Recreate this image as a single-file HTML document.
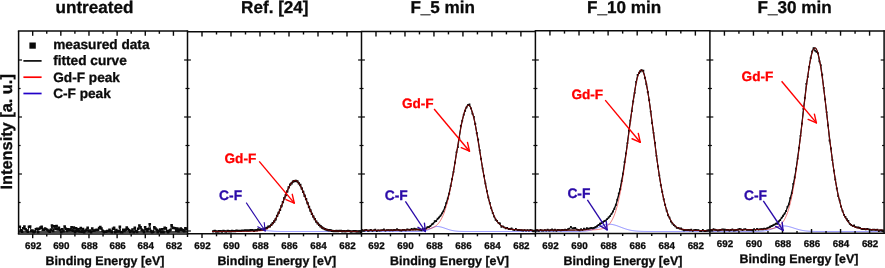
<!DOCTYPE html>
<html><head><meta charset="utf-8"><title>XPS F1s spectra</title>
<style>html,body{margin:0;padding:0;background:#fff;}svg{display:block;will-change:transform;}text{font-family:"Liberation Sans", Arial, Helvetica, sans-serif;font-weight:bold;stroke-width:0.3px;paint-order:stroke;text-rendering:geometricPrecision;}</style>
</head><body>
<svg width="885" height="268" viewBox="0 0 885 268">
<defs><clipPath id="c0"><rect x="18.60" y="31.00" width="168.90" height="203.00"/></clipPath><clipPath id="c1"><rect x="187.50" y="31.70" width="174.00" height="202.10"/></clipPath><clipPath id="c2"><rect x="361.50" y="31.60" width="173.90" height="202.20"/></clipPath><clipPath id="c3"><rect x="535.40" y="30.80" width="174.50" height="202.70"/></clipPath><clipPath id="c4"><rect x="709.90" y="30.90" width="174.20" height="202.40"/></clipPath></defs>
<rect width="885" height="268" fill="#fff"/>
<g clip-path="url(#c1)">
<polyline points="212.60,231.41 213.10,231.41 213.60,231.40 214.10,231.40 214.60,231.39 215.10,231.39 215.60,231.38 216.10,231.38 216.60,231.37 217.10,231.36 217.60,231.36 218.10,231.35 218.60,231.34 219.10,231.34 219.60,231.33 220.10,231.32 220.60,231.31 221.10,231.30 221.60,231.30 222.10,231.29 222.60,231.28 223.10,231.27 223.60,231.26 224.10,231.25 224.60,231.24 225.10,231.23 225.60,231.22 226.10,231.21 226.60,231.20 227.10,231.19 227.60,231.18 228.10,231.16 228.60,231.15 229.10,231.14 229.60,231.13 230.10,231.12 230.60,231.10 231.10,231.09 231.60,231.08 232.10,231.06 232.60,231.05 233.10,231.04 233.60,231.02 234.10,231.01 234.60,230.99 235.10,230.98 235.60,230.96 236.10,230.95 236.60,230.94 237.10,230.92 237.60,230.91 238.10,230.89 238.60,230.88 239.10,230.86 239.60,230.84 240.10,230.83 240.60,230.81 241.10,230.80 241.60,230.78 242.10,230.77 242.60,230.75 243.10,230.74 243.60,230.72 244.10,230.71 244.60,230.70 245.10,230.68 245.60,230.67 246.10,230.65 246.60,230.64 247.10,230.63 247.60,230.61 248.10,230.60 248.60,230.59 249.10,230.57 249.60,230.56 250.10,230.55 250.60,230.54 251.10,230.53 251.60,230.52 252.10,230.51 252.60,230.50 253.10,230.49 253.60,230.48 254.10,230.47 254.60,230.46 255.10,230.45 255.60,230.45 256.10,230.44 256.60,230.43 257.10,230.43 257.60,230.42 258.10,230.42 258.60,230.41 259.10,230.41 259.60,230.41 260.10,230.40 260.60,230.40 261.10,230.40 261.60,230.40 262.10,230.40 262.60,230.40 263.10,230.41 263.60,230.43 264.10,230.45 264.60,230.47 265.10,230.50 265.60,230.54 266.10,230.57 266.60,230.61 267.10,230.66 267.60,230.70 268.10,230.75 268.60,230.79 269.10,230.84 269.60,230.89 270.10,230.94 270.60,230.98 271.10,231.03 271.60,231.07 272.10,231.11 272.60,231.15 273.10,231.19 273.60,231.22 274.10,231.25 274.60,231.28 275.10,231.31 275.60,231.33 276.10,231.36 276.60,231.38 277.10,231.39 277.60,231.41 278.10,231.42 278.60,231.43 279.10,231.44 279.60,231.45 280.10,231.46 280.60,231.47 281.10,231.47 281.60,231.48 282.10,231.48 282.60,231.49 283.10,231.49 283.60,231.49 284.10,231.49 284.60,231.49 285.10,231.50 285.60,231.50 286.10,231.50 286.60,231.50 287.10,231.50 287.60,231.50 288.10,231.50 288.60,231.50 289.10,231.50 289.60,231.50 290.10,231.50 290.60,231.50 291.10,231.50 291.60,231.50 292.10,231.50 292.60,231.50 293.10,231.50 293.60,231.50 294.10,231.50 294.60,231.50 295.10,231.50 295.60,231.50 296.10,231.50 296.60,231.50 297.10,231.50 297.60,231.50 298.10,231.50 298.60,231.50 299.10,231.50 299.60,231.50 300.10,231.50 300.60,231.50 301.10,231.50 301.60,231.50 302.10,231.50 302.60,231.50 303.10,231.50 303.60,231.50 304.10,231.50 304.60,231.50 305.10,231.50 305.60,231.50 306.10,231.50 306.60,231.50 307.10,231.50 307.60,231.50 308.10,231.50 308.60,231.50 309.10,231.50 309.60,231.50 310.10,231.50 310.60,231.50 311.10,231.50 311.60,231.50 312.10,231.50 312.60,231.50 313.10,231.50 313.60,231.50 314.10,231.50 314.60,231.50 315.10,231.50 315.60,231.50 316.10,231.50 316.60,231.50 317.10,231.50 317.60,231.50 318.10,231.50 318.60,231.50 319.10,231.50 319.60,231.50 320.10,231.50 320.60,231.50 321.10,231.50 321.60,231.50 322.10,231.50 322.60,231.50 323.10,231.50 323.60,231.50 324.10,231.50 324.60,231.50 325.10,231.50 325.60,231.50 326.10,231.50 326.60,231.50 327.10,231.50 327.60,231.50 328.10,231.50 328.60,231.50 329.10,231.50 329.60,231.50 330.10,231.50 330.60,231.50 331.10,231.50 331.60,231.50 332.10,231.50 332.60,231.50 333.10,231.50 333.60,231.50 334.10,231.50 334.60,231.50 335.10,231.50 335.60,231.50 336.10,231.50 336.60,231.50 337.10,231.50 337.60,231.50 338.10,231.50 338.60,231.50 339.10,231.50 339.60,231.50 340.10,231.50 340.60,231.50 341.10,231.50 341.60,231.50 342.10,231.50 342.60,231.50 343.10,231.50 343.60,231.50 344.10,231.50 344.60,231.50 345.10,231.50 345.60,231.50 346.10,231.50 346.60,231.50 347.10,231.50 347.60,231.50 348.10,231.50 348.60,231.50 349.10,231.50 349.60,231.50 350.10,231.50 350.60,231.50 351.10,231.50 351.60,231.50 352.10,231.50 352.60,231.50 353.10,231.50 353.60,231.50 354.10,231.50 354.60,231.50 355.10,231.50 355.60,231.50 356.10,231.50 356.60,231.50 357.10,231.50 357.60,231.50 358.10,231.50 358.60,231.50 359.10,231.50 359.60,231.50 360.10,231.50 360.60,231.50 361.10,231.50" fill="none" stroke="#5050ff" stroke-width="0.65" stroke-linejoin="round" stroke-linecap="round" />
<polyline points="213.30,231.47 214.75,230.94 216.20,231.52 217.65,231.59 219.10,231.24 220.55,231.19 222.00,231.64 223.45,230.88 224.90,231.29 226.35,231.65 227.80,230.95 229.25,231.23 230.70,231.43 232.15,230.99 233.60,231.09 235.05,231.11 236.50,230.70 237.95,230.82 239.40,230.85 240.85,230.91 242.30,230.69 243.75,230.61 245.20,230.40 246.65,230.48 248.10,230.69 249.55,230.48 251.00,230.24 252.45,230.18 253.90,230.82 255.35,230.44 256.80,230.24 258.25,229.46 259.70,229.94 261.15,229.69 262.60,229.64 264.05,229.02 265.50,228.46 266.95,227.99 268.40,226.70 269.85,226.31 271.30,224.87 272.75,223.04 274.20,221.51 275.65,219.28 277.10,215.84 278.55,212.94 280.00,209.78 281.45,206.13 282.90,202.18 284.35,198.16 285.80,195.21 287.25,191.32 288.70,187.43 290.15,184.59 291.60,183.29 293.05,181.59 294.50,181.12 295.95,180.90 297.40,181.31 298.85,183.34 300.30,185.02 301.75,188.38 303.20,191.94 304.65,195.74 306.10,199.19 307.55,203.15 309.00,206.99 310.45,210.48 311.90,213.79 313.35,216.64 314.80,219.13 316.25,221.66 317.70,223.44 319.15,224.89 320.60,226.27 322.05,227.50 323.50,228.34 324.95,229.08 326.40,229.58 327.85,230.03 329.30,230.27 330.75,230.28 332.20,230.80 333.65,231.06 335.10,231.04 336.55,230.99 338.00,231.18 339.45,230.95 340.90,230.80 342.35,231.23 343.80,231.06 345.25,231.42 346.70,231.08 348.15,230.79 349.60,231.13 351.05,231.67 352.50,231.30 353.95,231.11 355.40,231.25 356.85,231.52 358.30,231.53 359.75,231.48 361.20,231.75" fill="none" stroke="#0a0a0a" stroke-width="0.8" stroke-linejoin="round" stroke-linecap="round" />
<path d="M212.15 230.32h2.3v2.3h-2.3zM213.60 229.79h2.3v2.3h-2.3zM215.05 230.37h2.3v2.3h-2.3zM216.50 230.44h2.3v2.3h-2.3zM217.95 230.09h2.3v2.3h-2.3zM219.40 230.04h2.3v2.3h-2.3zM220.85 230.49h2.3v2.3h-2.3zM222.30 229.73h2.3v2.3h-2.3zM223.75 230.14h2.3v2.3h-2.3zM225.20 230.50h2.3v2.3h-2.3zM226.65 229.80h2.3v2.3h-2.3zM228.10 230.08h2.3v2.3h-2.3zM229.55 230.28h2.3v2.3h-2.3zM231.00 229.84h2.3v2.3h-2.3zM232.45 229.94h2.3v2.3h-2.3zM233.90 229.96h2.3v2.3h-2.3zM235.35 229.55h2.3v2.3h-2.3zM236.80 229.67h2.3v2.3h-2.3zM238.25 229.70h2.3v2.3h-2.3zM239.70 229.76h2.3v2.3h-2.3zM241.15 229.54h2.3v2.3h-2.3zM242.60 229.46h2.3v2.3h-2.3zM244.05 229.25h2.3v2.3h-2.3zM245.50 229.33h2.3v2.3h-2.3zM246.95 229.54h2.3v2.3h-2.3zM248.40 229.33h2.3v2.3h-2.3zM249.85 229.09h2.3v2.3h-2.3zM251.30 229.03h2.3v2.3h-2.3zM252.75 229.67h2.3v2.3h-2.3zM254.20 229.29h2.3v2.3h-2.3zM255.65 229.09h2.3v2.3h-2.3zM257.10 228.31h2.3v2.3h-2.3zM258.55 228.79h2.3v2.3h-2.3zM260.00 228.54h2.3v2.3h-2.3zM261.45 228.49h2.3v2.3h-2.3zM262.90 227.87h2.3v2.3h-2.3zM264.35 227.31h2.3v2.3h-2.3zM265.80 226.84h2.3v2.3h-2.3zM267.25 225.55h2.3v2.3h-2.3zM268.70 225.16h2.3v2.3h-2.3zM270.15 223.72h2.3v2.3h-2.3zM271.60 221.89h2.3v2.3h-2.3zM273.05 220.36h2.3v2.3h-2.3zM274.50 218.13h2.3v2.3h-2.3zM275.95 214.69h2.3v2.3h-2.3zM277.40 211.79h2.3v2.3h-2.3zM278.85 208.63h2.3v2.3h-2.3zM280.30 204.98h2.3v2.3h-2.3zM281.75 201.03h2.3v2.3h-2.3zM283.20 197.01h2.3v2.3h-2.3zM284.65 194.06h2.3v2.3h-2.3zM286.10 190.17h2.3v2.3h-2.3zM287.55 186.28h2.3v2.3h-2.3zM289.00 183.44h2.3v2.3h-2.3zM290.45 182.14h2.3v2.3h-2.3zM291.90 180.44h2.3v2.3h-2.3zM293.35 179.97h2.3v2.3h-2.3zM294.80 179.75h2.3v2.3h-2.3zM296.25 180.16h2.3v2.3h-2.3zM297.70 182.19h2.3v2.3h-2.3zM299.15 183.87h2.3v2.3h-2.3zM300.60 187.23h2.3v2.3h-2.3zM302.05 190.79h2.3v2.3h-2.3zM303.50 194.59h2.3v2.3h-2.3zM304.95 198.04h2.3v2.3h-2.3zM306.40 202.00h2.3v2.3h-2.3zM307.85 205.84h2.3v2.3h-2.3zM309.30 209.33h2.3v2.3h-2.3zM310.75 212.64h2.3v2.3h-2.3zM312.20 215.49h2.3v2.3h-2.3zM313.65 217.98h2.3v2.3h-2.3zM315.10 220.51h2.3v2.3h-2.3zM316.55 222.29h2.3v2.3h-2.3zM318.00 223.74h2.3v2.3h-2.3zM319.45 225.12h2.3v2.3h-2.3zM320.90 226.35h2.3v2.3h-2.3zM322.35 227.19h2.3v2.3h-2.3zM323.80 227.93h2.3v2.3h-2.3zM325.25 228.43h2.3v2.3h-2.3zM326.70 228.88h2.3v2.3h-2.3zM328.15 229.12h2.3v2.3h-2.3zM329.60 229.13h2.3v2.3h-2.3zM331.05 229.65h2.3v2.3h-2.3zM332.50 229.91h2.3v2.3h-2.3zM333.95 229.89h2.3v2.3h-2.3zM335.40 229.84h2.3v2.3h-2.3zM336.85 230.03h2.3v2.3h-2.3zM338.30 229.80h2.3v2.3h-2.3zM339.75 229.65h2.3v2.3h-2.3zM341.20 230.08h2.3v2.3h-2.3zM342.65 229.91h2.3v2.3h-2.3zM344.10 230.27h2.3v2.3h-2.3zM345.55 229.93h2.3v2.3h-2.3zM347.00 229.64h2.3v2.3h-2.3zM348.45 229.98h2.3v2.3h-2.3zM349.90 230.52h2.3v2.3h-2.3zM351.35 230.15h2.3v2.3h-2.3zM352.80 229.96h2.3v2.3h-2.3zM354.25 230.10h2.3v2.3h-2.3zM355.70 230.37h2.3v2.3h-2.3zM357.15 230.38h2.3v2.3h-2.3zM358.60 230.33h2.3v2.3h-2.3zM360.05 230.60h2.3v2.3h-2.3z" fill="#0a0a0a"/>
<polyline points="212.60,231.38 213.10,231.38 213.60,231.37 214.10,231.37 214.60,231.36 215.10,231.36 215.60,231.35 216.10,231.35 216.60,231.34 217.10,231.33 217.60,231.33 218.10,231.32 218.60,231.31 219.10,231.30 219.60,231.30 220.10,231.29 220.60,231.28 221.10,231.27 221.60,231.26 222.10,231.25 222.60,231.24 223.10,231.23 223.60,231.22 224.10,231.21 224.60,231.20 225.10,231.19 225.60,231.18 226.10,231.17 226.60,231.16 227.10,231.15 227.60,231.14 228.10,231.12 228.60,231.11 229.10,231.10 229.60,231.09 230.10,231.07 230.60,231.06 231.10,231.05 231.60,231.03 232.10,231.02 232.60,231.00 233.10,230.99 233.60,230.97 234.10,230.96 234.60,230.94 235.10,230.93 235.60,230.91 236.10,230.90 236.60,230.88 237.10,230.87 237.60,230.85 238.10,230.83 238.60,230.82 239.10,230.80 239.60,230.79 240.10,230.77 240.60,230.75 241.10,230.74 241.60,230.72 242.10,230.70 242.60,230.69 243.10,230.67 243.60,230.66 244.10,230.64 244.60,230.62 245.10,230.61 245.60,230.59 246.10,230.57 246.60,230.56 247.10,230.54 247.60,230.52 248.10,230.51 248.60,230.49 249.10,230.47 249.60,230.46 250.10,230.44 250.60,230.42 251.10,230.40 251.60,230.38 252.10,230.36 252.60,230.34 253.10,230.32 253.60,230.30 254.10,230.28 254.60,230.25 255.10,230.22 255.60,230.19 256.10,230.16 256.60,230.13 257.10,230.09 257.60,230.05 258.10,230.00 258.60,229.95 259.10,229.89 259.60,229.83 260.10,229.76 260.60,229.69 261.10,229.60 261.60,229.51 262.10,229.41 262.60,229.30 263.10,229.18 263.60,229.05 264.10,228.92 264.60,228.77 265.10,228.61 265.60,228.44 266.10,228.25 266.60,228.04 267.10,227.81 267.60,227.56 268.10,227.28 268.60,226.98 269.10,226.65 269.60,226.29 270.10,225.89 270.60,225.46 271.10,225.00 271.60,224.50 272.10,223.95 272.60,223.37 273.10,222.75 273.60,222.08 274.10,221.37 274.60,220.61 275.10,219.81 275.60,218.96 276.10,218.07 276.60,217.14 277.10,216.16 277.60,215.14 278.10,214.08 278.60,212.98 279.10,211.85 279.60,210.67 280.10,209.47 280.60,208.24 281.10,206.98 281.60,205.69 282.10,204.39 282.60,203.08 283.10,201.75 283.60,200.42 284.10,199.09 284.60,197.76 285.10,196.44 285.60,195.14 286.10,193.86 286.60,192.61 287.10,191.39 287.60,190.21 288.10,189.07 288.60,187.98 289.10,186.95 289.60,185.97 290.10,185.07 290.60,184.23 291.10,183.47 291.60,182.79 292.10,182.19 292.60,181.68 293.10,181.25 293.60,180.92 294.10,180.69 294.60,180.54 295.10,180.50 295.60,180.55 296.10,180.71 296.60,180.96 297.10,181.31 297.60,181.76 298.10,182.30 298.60,182.92 299.10,183.63 299.60,184.42 300.10,185.28 300.60,186.22 301.10,187.21 301.60,188.27 302.10,189.37 302.60,190.52 303.10,191.71 303.60,192.94 304.10,194.19 304.60,195.47 305.10,196.77 305.60,198.07 306.10,199.38 306.60,200.70 307.10,202.01 307.60,203.31 308.10,204.60 308.60,205.87 309.10,207.12 309.60,208.36 310.10,209.56 310.60,210.74 311.10,211.88 311.60,212.99 312.10,214.07 312.60,215.10 313.10,216.10 313.60,217.06 314.10,217.99 314.60,218.87 315.10,219.71 315.60,220.51 316.10,221.27 316.60,221.99 317.10,222.67 317.60,223.31 318.10,223.91 318.60,224.48 319.10,225.01 319.60,225.51 320.10,225.97 320.60,226.41 321.10,226.81 321.60,227.18 322.10,227.53 322.60,227.85 323.10,228.15 323.60,228.42 324.10,228.67 324.60,228.90 325.10,229.11 325.60,229.30 326.10,229.48 326.60,229.64 327.10,229.79 327.60,229.93 328.10,230.05 328.60,230.16 329.10,230.26 329.60,230.36 330.10,230.44 330.60,230.52 331.10,230.58 331.60,230.65 332.10,230.70 332.60,230.76 333.10,230.80 333.60,230.85 334.10,230.88 334.60,230.92 335.10,230.95 335.60,230.98 336.10,231.01 336.60,231.03 337.10,231.06 337.60,231.08 338.10,231.10 338.60,231.12 339.10,231.13 339.60,231.15 340.10,231.16 340.60,231.18 341.10,231.19 341.60,231.20 342.10,231.21 342.60,231.23 343.10,231.24 343.60,231.25 344.10,231.26 344.60,231.26 345.10,231.27 345.60,231.28 346.10,231.29 346.60,231.30 347.10,231.31 347.60,231.31 348.10,231.32 348.60,231.33 349.10,231.33 349.60,231.34 350.10,231.35 350.60,231.35 351.10,231.36 351.60,231.36 352.10,231.37 352.60,231.37 353.10,231.38 353.60,231.39 354.10,231.39 354.60,231.40 355.10,231.40 355.60,231.40 356.10,231.41 356.60,231.41 357.10,231.42 357.60,231.42 358.10,231.43 358.60,231.43 359.10,231.44 359.60,231.44 360.10,231.44 360.60,231.45 361.10,231.45" fill="none" stroke="#0a0a0a" stroke-width="1.3" stroke-linejoin="round" stroke-linecap="round" />
<polyline points="212.60,231.47 213.10,231.47 213.60,231.47 214.10,231.47 214.60,231.47 215.10,231.47 215.60,231.47 216.10,231.47 216.60,231.47 217.10,231.47 217.60,231.47 218.10,231.47 218.60,231.47 219.10,231.47 219.60,231.47 220.10,231.47 220.60,231.47 221.10,231.47 221.60,231.47 222.10,231.47 222.60,231.47 223.10,231.46 223.60,231.46 224.10,231.46 224.60,231.46 225.10,231.46 225.60,231.46 226.10,231.46 226.60,231.46 227.10,231.46 227.60,231.46 228.10,231.46 228.60,231.46 229.10,231.46 229.60,231.46 230.10,231.46 230.60,231.46 231.10,231.46 231.60,231.46 232.10,231.45 232.60,231.45 233.10,231.45 233.60,231.45 234.10,231.45 234.60,231.45 235.10,231.45 235.60,231.45 236.10,231.45 236.60,231.45 237.10,231.45 237.60,231.45 238.10,231.44 238.60,231.44 239.10,231.44 239.60,231.44 240.10,231.44 240.60,231.44 241.10,231.44 241.60,231.44 242.10,231.44 242.60,231.43 243.10,231.43 243.60,231.43 244.10,231.43 244.60,231.43 245.10,231.43 245.60,231.42 246.10,231.42 246.60,231.42 247.10,231.42 247.60,231.41 248.10,231.41 248.60,231.40 249.10,231.40 249.60,231.39 250.10,231.39 250.60,231.38 251.10,231.38 251.60,231.37 252.10,231.36 252.60,231.35 253.10,231.34 253.60,231.32 254.10,231.31 254.60,231.29 255.10,231.27 255.60,231.25 256.10,231.22 256.60,231.19 257.10,231.16 257.60,231.12 258.10,231.08 258.60,231.04 259.10,230.98 259.60,230.92 260.10,230.86 260.60,230.78 261.10,230.70 261.60,230.61 262.10,230.51 262.60,230.39 263.10,230.27 263.60,230.12 264.10,229.97 264.60,229.80 265.10,229.61 265.60,229.40 266.10,229.17 266.60,228.93 267.10,228.65 267.60,228.36 268.10,228.04 268.60,227.69 269.10,227.31 269.60,226.90 270.10,226.46 270.60,225.98 271.10,225.47 271.60,224.93 272.10,224.34 272.60,223.72 273.10,223.06 273.60,222.36 274.10,221.61 274.60,220.83 275.10,220.00 275.60,219.13 276.10,218.22 276.60,217.27 277.10,216.27 277.60,215.24 278.10,214.16 278.60,213.05 279.10,211.90 279.60,210.72 280.10,209.51 280.60,208.27 281.10,207.00 281.60,205.72 282.10,204.41 282.60,203.09 283.10,201.76 283.60,200.43 284.10,199.10 284.60,197.77 285.10,196.45 285.60,195.15 286.10,193.87 286.60,192.61 287.10,191.39 287.60,190.21 288.10,189.07 288.60,187.98 289.10,186.95 289.60,185.98 290.10,185.07 290.60,184.23 291.10,183.47 291.60,182.79 292.10,182.19 292.60,181.68 293.10,181.25 293.60,180.92 294.10,180.69 294.60,180.54 295.10,180.50 295.60,180.55 296.10,180.71 296.60,180.96 297.10,181.31 297.60,181.76 298.10,182.30 298.60,182.92 299.10,183.63 299.60,184.42 300.10,185.28 300.60,186.22 301.10,187.21 301.60,188.27 302.10,189.37 302.60,190.52 303.10,191.71 303.60,192.94 304.10,194.19 304.60,195.47 305.10,196.77 305.60,198.07 306.10,199.38 306.60,200.70 307.10,202.01 307.60,203.31 308.10,204.60 308.60,205.87 309.10,207.12 309.60,208.36 310.10,209.56 310.60,210.74 311.10,211.88 311.60,212.99 312.10,214.07 312.60,215.10 313.10,216.10 313.60,217.06 314.10,217.99 314.60,218.87 315.10,219.71 315.60,220.51 316.10,221.27 316.60,221.99 317.10,222.67 317.60,223.31 318.10,223.91 318.60,224.48 319.10,225.01 319.60,225.51 320.10,225.97 320.60,226.41 321.10,226.81 321.60,227.18 322.10,227.53 322.60,227.85 323.10,228.15 323.60,228.42 324.10,228.67 324.60,228.90 325.10,229.11 325.60,229.30 326.10,229.48 326.60,229.64 327.10,229.79 327.60,229.93 328.10,230.05 328.60,230.16 329.10,230.26 329.60,230.36 330.10,230.44 330.60,230.52 331.10,230.58 331.60,230.65 332.10,230.70 332.60,230.76 333.10,230.80 333.60,230.85 334.10,230.88 334.60,230.92 335.10,230.95 335.60,230.98 336.10,231.01 336.60,231.03 337.10,231.06 337.60,231.08 338.10,231.10 338.60,231.12 339.10,231.13 339.60,231.15 340.10,231.16 340.60,231.18 341.10,231.19 341.60,231.20 342.10,231.21 342.60,231.23 343.10,231.24 343.60,231.25 344.10,231.26 344.60,231.26 345.10,231.27 345.60,231.28 346.10,231.29 346.60,231.30 347.10,231.31 347.60,231.31 348.10,231.32 348.60,231.33 349.10,231.33 349.60,231.34 350.10,231.35 350.60,231.35 351.10,231.36 351.60,231.36 352.10,231.37 352.60,231.37 353.10,231.38 353.60,231.39 354.10,231.39 354.60,231.40 355.10,231.40 355.60,231.40 356.10,231.41 356.60,231.41 357.10,231.42 357.60,231.42 358.10,231.43 358.60,231.43 359.10,231.44 359.60,231.44 360.10,231.44 360.60,231.45 361.10,231.45" fill="none" stroke="#e00000" stroke-width="0.65" stroke-linejoin="round" stroke-linecap="round" opacity="0.8"/>
</g>
<g clip-path="url(#c2)">
<polyline points="361.50,231.50 362.00,231.50 362.50,231.50 363.00,231.50 363.50,231.50 364.00,231.50 364.50,231.50 365.00,231.50 365.50,231.50 366.00,231.50 366.50,231.50 367.00,231.50 367.50,231.50 368.00,231.50 368.50,231.50 369.00,231.50 369.50,231.50 370.00,231.50 370.50,231.50 371.00,231.50 371.50,231.50 372.00,231.50 372.50,231.50 373.00,231.50 373.50,231.50 374.00,231.50 374.50,231.50 375.00,231.50 375.50,231.50 376.00,231.50 376.50,231.50 377.00,231.50 377.50,231.50 378.00,231.50 378.50,231.50 379.00,231.50 379.50,231.50 380.00,231.50 380.50,231.50 381.00,231.50 381.50,231.50 382.00,231.50 382.50,231.50 383.00,231.50 383.50,231.50 384.00,231.50 384.50,231.50 385.00,231.50 385.50,231.50 386.00,231.50 386.50,231.50 387.00,231.50 387.50,231.50 388.00,231.50 388.50,231.50 389.00,231.50 389.50,231.50 390.00,231.50 390.50,231.50 391.00,231.50 391.50,231.50 392.00,231.50 392.50,231.50 393.00,231.50 393.50,231.50 394.00,231.50 394.50,231.50 395.00,231.50 395.50,231.50 396.00,231.50 396.50,231.50 397.00,231.50 397.50,231.50 398.00,231.50 398.50,231.50 399.00,231.50 399.50,231.50 400.00,231.50 400.50,231.50 401.00,231.50 401.50,231.50 402.00,231.50 402.50,231.50 403.00,231.50 403.50,231.50 404.00,231.50 404.50,231.50 405.00,231.50 405.50,231.50 406.00,231.50 406.50,231.50 407.00,231.50 407.50,231.50 408.00,231.50 408.50,231.50 409.00,231.50 409.50,231.50 410.00,231.50 410.50,231.50 411.00,231.50 411.50,231.50 412.00,231.50 412.50,231.50 413.00,231.50 413.50,231.50 414.00,231.50 414.50,231.50 415.00,231.49 415.50,231.49 416.00,231.49 416.50,231.49 417.00,231.48 417.50,231.47 418.00,231.47 418.50,231.46 419.00,231.44 419.50,231.43 420.00,231.41 420.50,231.39 421.00,231.36 421.50,231.32 422.00,231.28 422.50,231.23 423.00,231.17 423.50,231.10 424.00,231.02 424.50,230.93 425.00,230.82 425.50,230.70 426.00,230.57 426.50,230.42 427.00,230.25 427.50,230.07 428.00,229.88 428.50,229.67 429.00,229.44 429.50,229.21 430.00,228.97 430.50,228.72 431.00,228.47 431.50,228.22 432.00,227.97 432.50,227.73 433.00,227.50 433.50,227.28 434.00,227.09 434.50,226.92 435.00,226.77 435.50,226.65 436.00,226.57 436.50,226.52 437.00,226.50 437.50,226.51 438.00,226.53 438.50,226.58 439.00,226.64 439.50,226.71 440.00,226.80 440.50,226.91 441.00,227.02 441.50,227.15 442.00,227.29 442.50,227.44 443.00,227.60 443.50,227.77 444.00,227.94 444.50,228.11 445.00,228.29 445.50,228.47 446.00,228.65 446.50,228.82 447.00,229.00 447.50,229.17 448.00,229.34 448.50,229.50 449.00,229.65 449.50,229.80 450.00,229.95 450.50,230.08 451.00,230.21 451.50,230.33 452.00,230.45 452.50,230.55 453.00,230.65 453.50,230.74 454.00,230.82 454.50,230.90 455.00,230.97 455.50,231.03 456.00,231.09 456.50,231.14 457.00,231.19 457.50,231.23 458.00,231.26 458.50,231.30 459.00,231.32 459.50,231.35 460.00,231.37 460.50,231.39 461.00,231.41 461.50,231.42 462.00,231.43 462.50,231.44 463.00,231.45 463.50,231.46 464.00,231.47 464.50,231.47 465.00,231.48 465.50,231.48 466.00,231.49 466.50,231.49 467.00,231.49 467.50,231.49 468.00,231.49 468.50,231.49 469.00,231.50 469.50,231.50 470.00,231.50 470.50,231.50 471.00,231.50 471.50,231.50 472.00,231.50 472.50,231.50 473.00,231.50 473.50,231.50 474.00,231.50 474.50,231.50 475.00,231.50 475.50,231.50 476.00,231.50 476.50,231.50 477.00,231.50 477.50,231.50 478.00,231.50 478.50,231.50 479.00,231.50 479.50,231.50 480.00,231.50 480.50,231.50 481.00,231.50 481.50,231.50 482.00,231.50 482.50,231.50 483.00,231.50 483.50,231.50 484.00,231.50 484.50,231.50 485.00,231.50 485.50,231.50 486.00,231.50 486.50,231.50 487.00,231.50 487.50,231.50 488.00,231.50 488.50,231.50 489.00,231.50 489.50,231.50 490.00,231.50 490.50,231.50 491.00,231.50 491.50,231.50 492.00,231.50 492.50,231.50 493.00,231.50 493.50,231.50 494.00,231.50 494.50,231.50 495.00,231.50 495.50,231.50 496.00,231.50 496.50,231.50 497.00,231.50 497.50,231.50 498.00,231.50 498.50,231.50 499.00,231.50 499.50,231.50 500.00,231.50 500.50,231.50 501.00,231.50 501.50,231.50 502.00,231.50 502.50,231.50 503.00,231.50 503.50,231.50 504.00,231.50 504.50,231.50 505.00,231.50 505.50,231.50 506.00,231.50 506.50,231.50 507.00,231.50 507.50,231.50 508.00,231.50 508.50,231.50 509.00,231.50 509.50,231.50 510.00,231.50 510.50,231.50 511.00,231.50 511.50,231.50 512.00,231.50 512.50,231.50 513.00,231.50 513.50,231.50 514.00,231.50 514.50,231.50 515.00,231.50 515.50,231.50 516.00,231.50 516.50,231.50 517.00,231.50 517.50,231.50 518.00,231.50 518.50,231.50 519.00,231.50 519.50,231.50 520.00,231.50 520.50,231.50 521.00,231.50 521.50,231.50 522.00,231.50 522.50,231.50 523.00,231.50 523.50,231.50 524.00,231.50 524.50,231.50 525.00,231.50 525.50,231.50 526.00,231.50 526.50,231.50 527.00,231.50 527.50,231.50 528.00,231.50 528.50,231.50 529.00,231.50 529.50,231.50 530.00,231.50 530.50,231.50 531.00,231.50 531.50,231.50 532.00,231.50 532.50,231.50 533.00,231.50 533.50,231.50 534.00,231.50 534.50,231.50 535.00,231.50" fill="none" stroke="#5050ff" stroke-width="0.65" stroke-linejoin="round" stroke-linecap="round" />
<polyline points="362.20,230.26 363.65,230.62 365.10,230.24 366.55,229.78 368.00,230.97 369.45,230.51 370.90,229.85 372.35,230.78 373.80,230.44 375.25,229.56 376.70,231.00 378.15,230.41 379.60,230.66 381.05,230.33 382.50,230.16 383.95,229.52 385.40,230.66 386.85,230.22 388.30,230.06 389.75,230.34 391.20,230.21 392.65,230.47 394.10,229.98 395.55,230.12 397.00,229.14 398.45,229.91 399.90,230.38 401.35,230.65 402.80,229.81 404.25,229.82 405.70,230.44 407.15,229.36 408.60,229.60 410.05,229.82 411.50,228.93 412.95,229.47 414.40,228.68 415.85,229.26 417.30,229.29 418.75,229.48 420.20,229.96 421.65,230.44 423.10,228.83 424.55,228.54 426.00,228.54 427.45,227.16 428.90,227.03 430.35,226.04 431.80,224.46 433.25,223.57 434.70,221.27 436.15,221.05 437.60,218.56 439.05,217.41 440.50,215.60 441.95,213.39 443.40,211.28 444.85,207.43 446.30,203.02 447.75,198.70 449.20,193.69 450.65,186.10 452.10,179.08 453.55,171.84 455.00,162.60 456.45,152.42 457.90,147.15 459.35,138.36 460.80,125.85 462.25,120.63 463.70,114.97 465.15,110.86 466.60,107.38 468.05,104.91 469.50,104.51 470.95,108.34 472.40,113.61 473.85,116.90 475.30,123.99 476.75,132.99 478.20,139.64 479.65,150.18 481.10,158.95 482.55,168.43 484.00,175.84 485.45,183.53 486.90,191.04 488.35,197.69 489.80,202.96 491.25,208.28 492.70,212.87 494.15,216.60 495.60,219.75 497.05,220.82 498.50,222.91 499.95,223.41 501.40,226.74 502.85,226.41 504.30,227.46 505.75,228.28 507.20,227.83 508.65,229.02 510.10,229.06 511.55,228.44 513.00,229.58 514.45,230.14 515.90,228.85 517.35,230.18 518.80,229.99 520.25,230.19 521.70,230.25 523.15,230.70 524.60,230.06 526.05,230.62 527.50,230.08 528.95,230.65 530.40,229.99 531.85,230.35 533.30,231.23 534.75,230.68" fill="none" stroke="#0a0a0a" stroke-width="0.8" stroke-linejoin="round" stroke-linecap="round" />
<path d="M361.30 229.36h1.8v1.8h-1.8zM362.75 229.72h1.8v1.8h-1.8zM364.20 229.34h1.8v1.8h-1.8zM365.65 228.88h1.8v1.8h-1.8zM367.10 230.07h1.8v1.8h-1.8zM368.55 229.61h1.8v1.8h-1.8zM370.00 228.95h1.8v1.8h-1.8zM371.45 229.88h1.8v1.8h-1.8zM372.90 229.54h1.8v1.8h-1.8zM374.35 228.66h1.8v1.8h-1.8zM375.80 230.10h1.8v1.8h-1.8zM377.25 229.51h1.8v1.8h-1.8zM378.70 229.76h1.8v1.8h-1.8zM380.15 229.43h1.8v1.8h-1.8zM381.60 229.26h1.8v1.8h-1.8zM383.05 228.62h1.8v1.8h-1.8zM384.50 229.76h1.8v1.8h-1.8zM385.95 229.32h1.8v1.8h-1.8zM387.40 229.16h1.8v1.8h-1.8zM388.85 229.44h1.8v1.8h-1.8zM390.30 229.31h1.8v1.8h-1.8zM391.75 229.57h1.8v1.8h-1.8zM393.20 229.08h1.8v1.8h-1.8zM394.65 229.22h1.8v1.8h-1.8zM396.10 228.24h1.8v1.8h-1.8zM397.55 229.01h1.8v1.8h-1.8zM399.00 229.48h1.8v1.8h-1.8zM400.45 229.75h1.8v1.8h-1.8zM401.90 228.91h1.8v1.8h-1.8zM403.35 228.92h1.8v1.8h-1.8zM404.80 229.54h1.8v1.8h-1.8zM406.25 228.46h1.8v1.8h-1.8zM407.70 228.70h1.8v1.8h-1.8zM409.15 228.92h1.8v1.8h-1.8zM410.60 228.03h1.8v1.8h-1.8zM412.05 228.57h1.8v1.8h-1.8zM413.50 227.78h1.8v1.8h-1.8zM414.95 228.36h1.8v1.8h-1.8zM416.40 228.39h1.8v1.8h-1.8zM417.85 228.58h1.8v1.8h-1.8zM419.30 229.06h1.8v1.8h-1.8zM420.75 229.54h1.8v1.8h-1.8zM422.20 227.93h1.8v1.8h-1.8zM423.65 227.64h1.8v1.8h-1.8zM425.10 227.64h1.8v1.8h-1.8zM426.55 226.26h1.8v1.8h-1.8zM428.00 226.13h1.8v1.8h-1.8zM429.45 225.14h1.8v1.8h-1.8zM430.90 223.56h1.8v1.8h-1.8zM432.35 222.67h1.8v1.8h-1.8zM433.80 220.37h1.8v1.8h-1.8zM435.25 220.15h1.8v1.8h-1.8zM436.70 217.66h1.8v1.8h-1.8zM438.15 216.51h1.8v1.8h-1.8zM439.60 214.70h1.8v1.8h-1.8zM441.05 212.49h1.8v1.8h-1.8zM442.50 210.38h1.8v1.8h-1.8zM443.95 206.53h1.8v1.8h-1.8zM445.40 202.12h1.8v1.8h-1.8zM446.85 197.80h1.8v1.8h-1.8zM448.30 192.79h1.8v1.8h-1.8zM449.75 185.20h1.8v1.8h-1.8zM451.20 178.18h1.8v1.8h-1.8zM452.65 170.94h1.8v1.8h-1.8zM454.10 161.70h1.8v1.8h-1.8zM455.55 151.52h1.8v1.8h-1.8zM457.00 146.25h1.8v1.8h-1.8zM458.45 137.46h1.8v1.8h-1.8zM459.90 124.95h1.8v1.8h-1.8zM461.35 119.73h1.8v1.8h-1.8zM462.80 114.07h1.8v1.8h-1.8zM464.25 109.96h1.8v1.8h-1.8zM465.70 106.48h1.8v1.8h-1.8zM467.15 104.01h1.8v1.8h-1.8zM468.60 103.61h1.8v1.8h-1.8zM470.05 107.44h1.8v1.8h-1.8zM471.50 112.71h1.8v1.8h-1.8zM472.95 116.00h1.8v1.8h-1.8zM474.40 123.09h1.8v1.8h-1.8zM475.85 132.09h1.8v1.8h-1.8zM477.30 138.74h1.8v1.8h-1.8zM478.75 149.28h1.8v1.8h-1.8zM480.20 158.05h1.8v1.8h-1.8zM481.65 167.53h1.8v1.8h-1.8zM483.10 174.94h1.8v1.8h-1.8zM484.55 182.63h1.8v1.8h-1.8zM486.00 190.14h1.8v1.8h-1.8zM487.45 196.79h1.8v1.8h-1.8zM488.90 202.06h1.8v1.8h-1.8zM490.35 207.38h1.8v1.8h-1.8zM491.80 211.97h1.8v1.8h-1.8zM493.25 215.70h1.8v1.8h-1.8zM494.70 218.85h1.8v1.8h-1.8zM496.15 219.92h1.8v1.8h-1.8zM497.60 222.01h1.8v1.8h-1.8zM499.05 222.51h1.8v1.8h-1.8zM500.50 225.84h1.8v1.8h-1.8zM501.95 225.51h1.8v1.8h-1.8zM503.40 226.56h1.8v1.8h-1.8zM504.85 227.38h1.8v1.8h-1.8zM506.30 226.93h1.8v1.8h-1.8zM507.75 228.12h1.8v1.8h-1.8zM509.20 228.16h1.8v1.8h-1.8zM510.65 227.54h1.8v1.8h-1.8zM512.10 228.68h1.8v1.8h-1.8zM513.55 229.24h1.8v1.8h-1.8zM515.00 227.95h1.8v1.8h-1.8zM516.45 229.28h1.8v1.8h-1.8zM517.90 229.09h1.8v1.8h-1.8zM519.35 229.29h1.8v1.8h-1.8zM520.80 229.35h1.8v1.8h-1.8zM522.25 229.80h1.8v1.8h-1.8zM523.70 229.16h1.8v1.8h-1.8zM525.15 229.72h1.8v1.8h-1.8zM526.60 229.18h1.8v1.8h-1.8zM528.05 229.75h1.8v1.8h-1.8zM529.50 229.09h1.8v1.8h-1.8zM530.95 229.45h1.8v1.8h-1.8zM532.40 230.33h1.8v1.8h-1.8zM533.85 229.78h1.8v1.8h-1.8z" fill="#0a0a0a"/>
<polyline points="361.50,230.33 362.00,230.32 362.50,230.32 363.00,230.32 363.50,230.32 364.00,230.32 364.50,230.32 365.00,230.31 365.50,230.31 366.00,230.31 366.50,230.31 367.00,230.31 367.50,230.30 368.00,230.30 368.50,230.30 369.00,230.30 369.50,230.30 370.00,230.29 370.50,230.29 371.00,230.29 371.50,230.29 372.00,230.29 372.50,230.28 373.00,230.28 373.50,230.28 374.00,230.28 374.50,230.28 375.00,230.27 375.50,230.27 376.00,230.27 376.50,230.27 377.00,230.26 377.50,230.26 378.00,230.26 378.50,230.26 379.00,230.25 379.50,230.25 380.00,230.25 380.50,230.24 381.00,230.24 381.50,230.24 382.00,230.24 382.50,230.23 383.00,230.23 383.50,230.23 384.00,230.22 384.50,230.22 385.00,230.22 385.50,230.21 386.00,230.21 386.50,230.21 387.00,230.20 387.50,230.20 388.00,230.20 388.50,230.19 389.00,230.19 389.50,230.18 390.00,230.18 390.50,230.18 391.00,230.17 391.50,230.17 392.00,230.16 392.50,230.16 393.00,230.16 393.50,230.15 394.00,230.15 394.50,230.14 395.00,230.14 395.50,230.13 396.00,230.13 396.50,230.12 397.00,230.12 397.50,230.11 398.00,230.11 398.50,230.10 399.00,230.10 399.50,230.09 400.00,230.08 400.50,230.08 401.00,230.07 401.50,230.07 402.00,230.06 402.50,230.05 403.00,230.05 403.50,230.04 404.00,230.03 404.50,230.03 405.00,230.02 405.50,230.01 406.00,230.00 406.50,230.00 407.00,229.99 407.50,229.98 408.00,229.97 408.50,229.96 409.00,229.96 409.50,229.95 410.00,229.94 410.50,229.93 411.00,229.92 411.50,229.91 412.00,229.90 412.50,229.89 413.00,229.88 413.50,229.86 414.00,229.85 414.50,229.84 415.00,229.82 415.50,229.81 416.00,229.79 416.50,229.77 417.00,229.75 417.50,229.73 418.00,229.71 418.50,229.68 419.00,229.65 419.50,229.62 420.00,229.58 420.50,229.53 421.00,229.48 421.50,229.42 422.00,229.35 422.50,229.27 423.00,229.18 423.50,229.07 424.00,228.96 424.50,228.82 425.00,228.67 425.50,228.50 426.00,228.32 426.50,228.11 427.00,227.88 427.50,227.62 428.00,227.35 428.50,227.05 429.00,226.73 429.50,226.39 430.00,226.03 430.50,225.65 431.00,225.26 431.50,224.85 432.00,224.42 432.50,223.99 433.00,223.55 433.50,223.10 434.00,222.65 434.50,222.19 435.00,221.73 435.50,221.28 436.00,220.82 436.50,220.36 437.00,219.89 437.50,219.42 438.00,218.91 438.50,218.38 439.00,217.81 439.50,217.21 440.00,216.57 440.50,215.88 441.00,215.15 441.50,214.36 442.00,213.51 442.50,212.61 443.00,211.63 443.50,210.59 444.00,209.47 444.50,208.27 445.00,206.99 445.50,205.63 446.00,204.18 446.50,202.63 447.00,200.99 447.50,199.26 448.00,197.43 448.50,195.50 449.00,193.47 449.50,191.35 450.00,189.13 450.50,186.81 451.00,184.40 451.50,181.91 452.00,179.33 452.50,176.67 453.00,173.93 453.50,171.13 454.00,168.26 454.50,165.34 455.00,162.37 455.50,159.37 456.00,156.33 456.50,153.28 457.00,150.23 457.50,147.17 458.00,144.14 458.50,141.12 459.00,138.15 459.50,135.23 460.00,132.38 460.50,129.60 461.00,126.91 461.50,124.33 462.00,121.86 462.50,119.52 463.00,117.31 463.50,115.27 464.00,113.38 464.50,111.67 465.00,110.14 465.50,108.80 466.00,107.67 466.50,106.74 467.00,106.03 467.50,105.53 468.00,105.25 468.50,105.20 469.00,105.38 469.50,105.78 470.00,106.41 470.50,107.26 471.00,108.33 471.50,109.61 472.00,111.09 472.50,112.76 473.00,114.60 473.50,116.62 474.00,118.80 474.50,121.12 475.00,123.57 475.50,126.15 476.00,128.83 476.50,131.60 477.00,134.46 477.50,137.38 478.00,140.35 478.50,143.38 479.00,146.43 479.50,149.50 480.00,152.58 480.50,155.66 481.00,158.72 481.50,161.77 482.00,164.79 482.50,167.76 483.00,170.69 483.50,173.57 484.00,176.39 484.50,179.15 485.00,181.83 485.50,184.44 486.00,186.97 486.50,189.41 487.00,191.78 487.50,194.05 488.00,196.24 488.50,198.34 489.00,200.35 489.50,202.26 490.00,204.09 490.50,205.83 491.00,207.48 491.50,209.04 492.00,210.52 492.50,211.91 493.00,213.23 493.50,214.46 494.00,215.62 494.50,216.71 495.00,217.72 495.50,218.67 496.00,219.55 496.50,220.38 497.00,221.14 497.50,221.85 498.00,222.51 498.50,223.12 499.00,223.68 499.50,224.20 500.00,224.68 500.50,225.12 501.00,225.52 501.50,225.89 502.00,226.24 502.50,226.55 503.00,226.84 503.50,227.10 504.00,227.34 504.50,227.56 505.00,227.76 505.50,227.95 506.00,228.12 506.50,228.27 507.00,228.41 507.50,228.54 508.00,228.66 508.50,228.77 509.00,228.87 509.50,228.97 510.00,229.05 510.50,229.13 511.00,229.21 511.50,229.27 512.00,229.34 512.50,229.40 513.00,229.45 513.50,229.50 514.00,229.55 514.50,229.59 515.00,229.64 515.50,229.68 516.00,229.71 516.50,229.75 517.00,229.79 517.50,229.82 518.00,229.85 518.50,229.88 519.00,229.91 519.50,229.93 520.00,229.96 520.50,229.99 521.00,230.01 521.50,230.04 522.00,230.06 522.50,230.08 523.00,230.10 523.50,230.12 524.00,230.14 524.50,230.16 525.00,230.18 525.50,230.20 526.00,230.22 526.50,230.24 527.00,230.25 527.50,230.27 528.00,230.29 528.50,230.30 529.00,230.32 529.50,230.33 530.00,230.35 530.50,230.36 531.00,230.38 531.50,230.39 532.00,230.40 532.50,230.42 533.00,230.43 533.50,230.44 534.00,230.46 534.50,230.47 535.00,230.48" fill="none" stroke="#0a0a0a" stroke-width="1.15" stroke-linejoin="round" stroke-linecap="round" />
<polyline points="361.50,230.33 362.00,230.32 362.50,230.32 363.00,230.32 363.50,230.32 364.00,230.32 364.50,230.32 365.00,230.31 365.50,230.31 366.00,230.31 366.50,230.31 367.00,230.31 367.50,230.30 368.00,230.30 368.50,230.30 369.00,230.30 369.50,230.30 370.00,230.29 370.50,230.29 371.00,230.29 371.50,230.29 372.00,230.29 372.50,230.28 373.00,230.28 373.50,230.28 374.00,230.28 374.50,230.28 375.00,230.27 375.50,230.27 376.00,230.27 376.50,230.27 377.00,230.26 377.50,230.26 378.00,230.26 378.50,230.26 379.00,230.25 379.50,230.25 380.00,230.25 380.50,230.24 381.00,230.24 381.50,230.24 382.00,230.24 382.50,230.23 383.00,230.23 383.50,230.23 384.00,230.22 384.50,230.22 385.00,230.22 385.50,230.21 386.00,230.21 386.50,230.21 387.00,230.20 387.50,230.20 388.00,230.20 388.50,230.19 389.00,230.19 389.50,230.18 390.00,230.18 390.50,230.18 391.00,230.17 391.50,230.17 392.00,230.16 392.50,230.16 393.00,230.16 393.50,230.15 394.00,230.15 394.50,230.14 395.00,230.14 395.50,230.13 396.00,230.13 396.50,230.12 397.00,230.12 397.50,230.11 398.00,230.11 398.50,230.10 399.00,230.10 399.50,230.09 400.00,230.08 400.50,230.08 401.00,230.07 401.50,230.07 402.00,230.06 402.50,230.05 403.00,230.05 403.50,230.04 404.00,230.03 404.50,230.03 405.00,230.02 405.50,230.01 406.00,230.00 406.50,230.00 407.00,229.99 407.50,229.98 408.00,229.97 408.50,229.96 409.00,229.96 409.50,229.95 410.00,229.94 410.50,229.93 411.00,229.92 411.50,229.91 412.00,229.90 412.50,229.89 413.00,229.88 413.50,229.87 414.00,229.85 414.50,229.84 415.00,229.83 415.50,229.82 416.00,229.80 416.50,229.79 417.00,229.77 417.50,229.76 418.00,229.74 418.50,229.72 419.00,229.71 419.50,229.69 420.00,229.67 420.50,229.64 421.00,229.62 421.50,229.60 422.00,229.57 422.50,229.54 423.00,229.51 423.50,229.47 424.00,229.44 424.50,229.39 425.00,229.35 425.50,229.30 426.00,229.25 426.50,229.19 427.00,229.12 427.50,229.05 428.00,228.97 428.50,228.88 429.00,228.79 429.50,228.68 430.00,228.56 430.50,228.43 431.00,228.29 431.50,228.13 432.00,227.96 432.50,227.76 433.00,227.55 433.50,227.32 434.00,227.06 434.50,226.77 435.00,226.46 435.50,226.12 436.00,225.75 436.50,225.34 437.00,224.89 437.50,224.41 438.00,223.88 438.50,223.30 439.00,222.68 439.50,222.00 440.00,221.27 440.50,220.48 441.00,219.62 441.50,218.70 442.00,217.72 442.50,216.66 443.00,215.53 443.50,214.32 444.00,213.03 444.50,211.66 445.00,210.21 445.50,208.66 446.00,207.03 446.50,205.31 447.00,203.50 447.50,201.59 448.00,199.59 448.50,197.50 449.00,195.32 449.50,193.04 450.00,190.68 450.50,188.23 451.00,185.69 451.50,183.07 452.00,180.38 452.50,177.61 453.00,174.78 453.50,171.89 454.00,168.94 454.50,165.94 455.00,162.90 455.50,159.83 456.00,156.75 456.50,153.64 457.00,150.54 457.50,147.45 458.00,144.37 458.50,141.33 459.00,138.33 459.50,135.38 460.00,132.51 460.50,129.71 461.00,127.00 461.50,124.40 462.00,121.92 462.50,119.57 463.00,117.36 463.50,115.30 464.00,113.41 464.50,111.69 465.00,110.16 465.50,108.82 466.00,107.68 466.50,106.75 467.00,106.04 467.50,105.54 468.00,105.26 468.50,105.21 469.00,105.38 469.50,105.79 470.00,106.41 470.50,107.27 471.00,108.33 471.50,109.61 472.00,111.09 472.50,112.76 473.00,114.61 473.50,116.62 474.00,118.80 474.50,121.12 475.00,123.57 475.50,126.15 476.00,128.83 476.50,131.60 477.00,134.46 477.50,137.38 478.00,140.35 478.50,143.38 479.00,146.43 479.50,149.50 480.00,152.58 480.50,155.66 481.00,158.72 481.50,161.77 482.00,164.79 482.50,167.76 483.00,170.69 483.50,173.57 484.00,176.39 484.50,179.15 485.00,181.83 485.50,184.44 486.00,186.97 486.50,189.41 487.00,191.78 487.50,194.05 488.00,196.24 488.50,198.34 489.00,200.35 489.50,202.26 490.00,204.09 490.50,205.83 491.00,207.48 491.50,209.04 492.00,210.52 492.50,211.91 493.00,213.23 493.50,214.46 494.00,215.62 494.50,216.71 495.00,217.72 495.50,218.67 496.00,219.55 496.50,220.38 497.00,221.14 497.50,221.85 498.00,222.51 498.50,223.12 499.00,223.68 499.50,224.20 500.00,224.68 500.50,225.12 501.00,225.52 501.50,225.89 502.00,226.24 502.50,226.55 503.00,226.84 503.50,227.10 504.00,227.34 504.50,227.56 505.00,227.76 505.50,227.95 506.00,228.12 506.50,228.27 507.00,228.41 507.50,228.54 508.00,228.66 508.50,228.77 509.00,228.87 509.50,228.97 510.00,229.05 510.50,229.13 511.00,229.21 511.50,229.27 512.00,229.34 512.50,229.40 513.00,229.45 513.50,229.50 514.00,229.55 514.50,229.59 515.00,229.64 515.50,229.68 516.00,229.71 516.50,229.75 517.00,229.79 517.50,229.82 518.00,229.85 518.50,229.88 519.00,229.91 519.50,229.93 520.00,229.96 520.50,229.99 521.00,230.01 521.50,230.04 522.00,230.06 522.50,230.08 523.00,230.10 523.50,230.12 524.00,230.14 524.50,230.16 525.00,230.18 525.50,230.20 526.00,230.22 526.50,230.24 527.00,230.25 527.50,230.27 528.00,230.29 528.50,230.30 529.00,230.32 529.50,230.33 530.00,230.35 530.50,230.36 531.00,230.38 531.50,230.39 532.00,230.40 532.50,230.42 533.00,230.43 533.50,230.44 534.00,230.46 534.50,230.47 535.00,230.48" fill="none" stroke="#e00000" stroke-width="0.65" stroke-linejoin="round" stroke-linecap="round" opacity="0.8"/>
</g>
<g clip-path="url(#c3)">
<polyline points="535.40,231.50 535.90,231.50 536.40,231.50 536.90,231.50 537.40,231.50 537.90,231.50 538.40,231.50 538.90,231.50 539.40,231.50 539.90,231.50 540.40,231.50 540.90,231.50 541.40,231.50 541.90,231.50 542.40,231.50 542.90,231.50 543.40,231.50 543.90,231.50 544.40,231.50 544.90,231.50 545.40,231.50 545.90,231.50 546.40,231.50 546.90,231.50 547.40,231.50 547.90,231.50 548.40,231.50 548.90,231.50 549.40,231.50 549.90,231.50 550.40,231.50 550.90,231.50 551.40,231.50 551.90,231.50 552.40,231.50 552.90,231.50 553.40,231.50 553.90,231.50 554.40,231.50 554.90,231.50 555.40,231.50 555.90,231.50 556.40,231.50 556.90,231.50 557.40,231.50 557.90,231.50 558.40,231.50 558.90,231.50 559.40,231.50 559.90,231.50 560.40,231.50 560.90,231.50 561.40,231.50 561.90,231.50 562.40,231.50 562.90,231.50 563.40,231.50 563.90,231.50 564.40,231.50 564.90,231.50 565.40,231.50 565.90,231.50 566.40,231.50 566.90,231.50 567.40,231.50 567.90,231.50 568.40,231.50 568.90,231.50 569.40,231.50 569.90,231.50 570.40,231.50 570.90,231.49 571.40,231.49 571.90,231.49 572.40,231.49 572.90,231.49 573.40,231.49 573.90,231.48 574.40,231.48 574.90,231.48 575.40,231.47 575.90,231.47 576.40,231.46 576.90,231.46 577.40,231.45 577.90,231.44 578.40,231.43 578.90,231.42 579.40,231.41 579.90,231.39 580.40,231.38 580.90,231.36 581.40,231.34 581.90,231.31 582.40,231.29 582.90,231.26 583.40,231.22 583.90,231.19 584.40,231.15 584.90,231.10 585.40,231.05 585.90,230.99 586.40,230.93 586.90,230.87 587.40,230.79 587.90,230.71 588.40,230.63 588.90,230.53 589.40,230.43 589.90,230.32 590.40,230.21 590.90,230.08 591.40,229.95 591.90,229.81 592.40,229.66 592.90,229.50 593.40,229.34 593.90,229.17 594.40,228.99 594.90,228.80 595.40,228.60 595.90,228.40 596.40,228.20 596.90,227.99 597.40,227.77 597.90,227.56 598.40,227.34 598.90,227.12 599.40,226.90 599.90,226.67 600.40,226.46 600.90,226.24 601.40,226.03 601.90,225.83 602.40,225.63 602.90,225.44 603.40,225.26 603.90,225.09 604.40,224.93 604.90,224.79 605.40,224.66 605.90,224.54 606.40,224.44 606.90,224.36 607.40,224.29 607.90,224.24 608.40,224.21 608.90,224.20 609.40,224.20 609.90,224.22 610.40,224.25 610.90,224.30 611.40,224.36 611.90,224.43 612.40,224.51 612.90,224.61 613.40,224.72 613.90,224.83 614.40,224.96 614.90,225.10 615.40,225.25 615.90,225.40 616.40,225.57 616.90,225.73 617.40,225.91 617.90,226.09 618.40,226.27 618.90,226.46 619.40,226.65 619.90,226.84 620.40,227.03 620.90,227.23 621.40,227.42 621.90,227.61 622.40,227.80 622.90,227.98 623.40,228.17 623.90,228.35 624.40,228.52 624.90,228.69 625.40,228.86 625.90,229.02 626.40,229.18 626.90,229.33 627.40,229.47 627.90,229.61 628.40,229.74 628.90,229.87 629.40,229.99 629.90,230.10 630.40,230.21 630.90,230.31 631.40,230.40 631.90,230.49 632.40,230.58 632.90,230.66 633.40,230.73 633.90,230.80 634.40,230.86 634.90,230.92 635.40,230.98 635.90,231.03 636.40,231.07 636.90,231.12 637.40,231.15 637.90,231.19 638.40,231.22 638.90,231.25 639.40,231.28 639.90,231.30 640.40,231.32 640.90,231.34 641.40,231.36 641.90,231.38 642.40,231.39 642.90,231.41 643.40,231.42 643.90,231.43 644.40,231.44 644.90,231.44 645.40,231.45 645.90,231.46 646.40,231.46 646.90,231.47 647.40,231.47 647.90,231.48 648.40,231.48 648.90,231.48 649.40,231.48 649.90,231.49 650.40,231.49 650.90,231.49 651.40,231.49 651.90,231.49 652.40,231.49 652.90,231.50 653.40,231.50 653.90,231.50 654.40,231.50 654.90,231.50 655.40,231.50 655.90,231.50 656.40,231.50 656.90,231.50 657.40,231.50 657.90,231.50 658.40,231.50 658.90,231.50 659.40,231.50 659.90,231.50 660.40,231.50 660.90,231.50 661.40,231.50 661.90,231.50 662.40,231.50 662.90,231.50 663.40,231.50 663.90,231.50 664.40,231.50 664.90,231.50 665.40,231.50 665.90,231.50 666.40,231.50 666.90,231.50 667.40,231.50 667.90,231.50 668.40,231.50 668.90,231.50 669.40,231.50 669.90,231.50 670.40,231.50 670.90,231.50 671.40,231.50 671.90,231.50 672.40,231.50 672.90,231.50 673.40,231.50 673.90,231.50 674.40,231.50 674.90,231.50 675.40,231.50 675.90,231.50 676.40,231.50 676.90,231.50 677.40,231.50 677.90,231.50 678.40,231.50 678.90,231.50 679.40,231.50 679.90,231.50 680.40,231.50 680.90,231.50 681.40,231.50 681.90,231.50 682.40,231.50 682.90,231.50 683.40,231.50 683.90,231.50 684.40,231.50 684.90,231.50 685.40,231.50 685.90,231.50 686.40,231.50 686.90,231.50 687.40,231.50 687.90,231.50 688.40,231.50 688.90,231.50 689.40,231.50 689.90,231.50 690.40,231.50 690.90,231.50 691.40,231.50 691.90,231.50 692.40,231.50 692.90,231.50 693.40,231.50 693.90,231.50 694.40,231.50 694.90,231.50 695.40,231.50 695.90,231.50 696.40,231.50 696.90,231.50 697.40,231.50 697.90,231.50 698.40,231.50 698.90,231.50 699.40,231.50 699.90,231.50 700.40,231.50 700.90,231.50 701.40,231.50 701.90,231.50 702.40,231.50 702.90,231.50 703.40,231.50 703.90,231.50 704.40,231.50 704.90,231.50 705.40,231.50 705.90,231.50 706.40,231.50 706.90,231.50 707.40,231.50 707.90,231.50 708.40,231.50 708.90,231.50 709.40,231.50 709.90,231.50" fill="none" stroke="#5050ff" stroke-width="0.65" stroke-linejoin="round" stroke-linecap="round" />
<polyline points="536.10,230.26 537.55,230.06 539.00,230.91 540.45,229.93 541.90,230.50 543.35,230.72 544.80,230.07 546.25,230.57 547.70,229.68 549.15,230.65 550.60,230.27 552.05,229.45 553.50,230.48 554.95,229.76 556.40,230.75 557.85,229.85 559.30,230.08 560.75,230.28 562.20,229.98 563.65,230.21 565.10,229.72 566.55,230.01 568.00,229.21 569.45,228.67 570.90,226.78 572.35,228.43 573.80,228.25 575.25,228.01 576.70,229.43 578.15,229.94 579.60,230.33 581.05,229.27 582.50,230.14 583.95,228.77 585.40,229.38 586.85,228.07 588.30,228.65 589.75,228.31 591.20,227.80 592.65,228.41 594.10,227.79 595.55,227.45 597.00,226.43 598.45,224.99 599.90,223.63 601.35,223.18 602.80,222.19 604.25,221.07 605.70,220.59 607.15,219.21 608.60,217.49 610.05,216.03 611.50,213.83 612.95,211.51 614.40,208.74 615.85,205.13 617.30,199.64 618.75,193.68 620.20,189.27 621.65,181.07 623.10,173.57 624.55,162.15 626.00,153.28 627.45,143.04 628.90,130.58 630.35,120.49 631.80,111.13 633.25,101.43 634.70,92.94 636.15,81.83 637.60,74.80 639.05,73.11 640.50,71.48 641.95,70.41 643.40,70.56 644.85,77.88 646.30,84.25 647.75,91.98 649.20,100.08 650.65,111.45 652.10,123.00 653.55,132.85 655.00,142.90 656.45,155.92 657.90,166.41 659.35,175.66 660.80,185.08 662.25,191.88 663.70,199.12 665.15,204.94 666.60,210.50 668.05,215.26 669.50,217.71 670.95,221.71 672.40,223.66 673.85,225.05 675.30,226.33 676.75,227.95 678.20,227.83 679.65,228.48 681.10,228.50 682.55,229.56 684.00,230.23 685.45,230.05 686.90,230.16 688.35,229.99 689.80,230.26 691.25,229.61 692.70,230.81 694.15,230.20 695.60,229.93 697.05,230.14 698.50,230.15 699.95,230.95 701.40,231.07 702.85,230.01 704.30,231.07 705.75,231.08 707.20,230.44 708.65,230.06" fill="none" stroke="#0a0a0a" stroke-width="0.8" stroke-linejoin="round" stroke-linecap="round" />
<path d="M535.20 229.36h1.8v1.8h-1.8zM536.65 229.16h1.8v1.8h-1.8zM538.10 230.01h1.8v1.8h-1.8zM539.55 229.03h1.8v1.8h-1.8zM541.00 229.60h1.8v1.8h-1.8zM542.45 229.82h1.8v1.8h-1.8zM543.90 229.17h1.8v1.8h-1.8zM545.35 229.67h1.8v1.8h-1.8zM546.80 228.78h1.8v1.8h-1.8zM548.25 229.75h1.8v1.8h-1.8zM549.70 229.37h1.8v1.8h-1.8zM551.15 228.55h1.8v1.8h-1.8zM552.60 229.58h1.8v1.8h-1.8zM554.05 228.86h1.8v1.8h-1.8zM555.50 229.85h1.8v1.8h-1.8zM556.95 228.95h1.8v1.8h-1.8zM558.40 229.18h1.8v1.8h-1.8zM559.85 229.38h1.8v1.8h-1.8zM561.30 229.08h1.8v1.8h-1.8zM562.75 229.31h1.8v1.8h-1.8zM564.20 228.82h1.8v1.8h-1.8zM565.65 229.11h1.8v1.8h-1.8zM567.10 228.31h1.8v1.8h-1.8zM568.55 227.77h1.8v1.8h-1.8zM570.00 225.88h1.8v1.8h-1.8zM571.45 227.53h1.8v1.8h-1.8zM572.90 227.35h1.8v1.8h-1.8zM574.35 227.11h1.8v1.8h-1.8zM575.80 228.53h1.8v1.8h-1.8zM577.25 229.04h1.8v1.8h-1.8zM578.70 229.43h1.8v1.8h-1.8zM580.15 228.37h1.8v1.8h-1.8zM581.60 229.24h1.8v1.8h-1.8zM583.05 227.87h1.8v1.8h-1.8zM584.50 228.48h1.8v1.8h-1.8zM585.95 227.17h1.8v1.8h-1.8zM587.40 227.75h1.8v1.8h-1.8zM588.85 227.41h1.8v1.8h-1.8zM590.30 226.90h1.8v1.8h-1.8zM591.75 227.51h1.8v1.8h-1.8zM593.20 226.89h1.8v1.8h-1.8zM594.65 226.55h1.8v1.8h-1.8zM596.10 225.53h1.8v1.8h-1.8zM597.55 224.09h1.8v1.8h-1.8zM599.00 222.73h1.8v1.8h-1.8zM600.45 222.28h1.8v1.8h-1.8zM601.90 221.29h1.8v1.8h-1.8zM603.35 220.17h1.8v1.8h-1.8zM604.80 219.69h1.8v1.8h-1.8zM606.25 218.31h1.8v1.8h-1.8zM607.70 216.59h1.8v1.8h-1.8zM609.15 215.13h1.8v1.8h-1.8zM610.60 212.93h1.8v1.8h-1.8zM612.05 210.61h1.8v1.8h-1.8zM613.50 207.84h1.8v1.8h-1.8zM614.95 204.23h1.8v1.8h-1.8zM616.40 198.74h1.8v1.8h-1.8zM617.85 192.78h1.8v1.8h-1.8zM619.30 188.37h1.8v1.8h-1.8zM620.75 180.17h1.8v1.8h-1.8zM622.20 172.67h1.8v1.8h-1.8zM623.65 161.25h1.8v1.8h-1.8zM625.10 152.38h1.8v1.8h-1.8zM626.55 142.14h1.8v1.8h-1.8zM628.00 129.68h1.8v1.8h-1.8zM629.45 119.59h1.8v1.8h-1.8zM630.90 110.23h1.8v1.8h-1.8zM632.35 100.53h1.8v1.8h-1.8zM633.80 92.04h1.8v1.8h-1.8zM635.25 80.93h1.8v1.8h-1.8zM636.70 73.90h1.8v1.8h-1.8zM638.15 72.21h1.8v1.8h-1.8zM639.60 70.58h1.8v1.8h-1.8zM641.05 69.51h1.8v1.8h-1.8zM642.50 69.66h1.8v1.8h-1.8zM643.95 76.98h1.8v1.8h-1.8zM645.40 83.35h1.8v1.8h-1.8zM646.85 91.08h1.8v1.8h-1.8zM648.30 99.18h1.8v1.8h-1.8zM649.75 110.55h1.8v1.8h-1.8zM651.20 122.10h1.8v1.8h-1.8zM652.65 131.95h1.8v1.8h-1.8zM654.10 142.00h1.8v1.8h-1.8zM655.55 155.02h1.8v1.8h-1.8zM657.00 165.51h1.8v1.8h-1.8zM658.45 174.76h1.8v1.8h-1.8zM659.90 184.18h1.8v1.8h-1.8zM661.35 190.98h1.8v1.8h-1.8zM662.80 198.22h1.8v1.8h-1.8zM664.25 204.04h1.8v1.8h-1.8zM665.70 209.60h1.8v1.8h-1.8zM667.15 214.36h1.8v1.8h-1.8zM668.60 216.81h1.8v1.8h-1.8zM670.05 220.81h1.8v1.8h-1.8zM671.50 222.76h1.8v1.8h-1.8zM672.95 224.15h1.8v1.8h-1.8zM674.40 225.43h1.8v1.8h-1.8zM675.85 227.05h1.8v1.8h-1.8zM677.30 226.93h1.8v1.8h-1.8zM678.75 227.58h1.8v1.8h-1.8zM680.20 227.60h1.8v1.8h-1.8zM681.65 228.66h1.8v1.8h-1.8zM683.10 229.33h1.8v1.8h-1.8zM684.55 229.15h1.8v1.8h-1.8zM686.00 229.26h1.8v1.8h-1.8zM687.45 229.09h1.8v1.8h-1.8zM688.90 229.36h1.8v1.8h-1.8zM690.35 228.71h1.8v1.8h-1.8zM691.80 229.91h1.8v1.8h-1.8zM693.25 229.30h1.8v1.8h-1.8zM694.70 229.03h1.8v1.8h-1.8zM696.15 229.24h1.8v1.8h-1.8zM697.60 229.25h1.8v1.8h-1.8zM699.05 230.05h1.8v1.8h-1.8zM700.50 230.17h1.8v1.8h-1.8zM701.95 229.11h1.8v1.8h-1.8zM703.40 230.17h1.8v1.8h-1.8zM704.85 230.18h1.8v1.8h-1.8zM706.30 229.54h1.8v1.8h-1.8zM707.75 229.16h1.8v1.8h-1.8z" fill="#0a0a0a"/>
<polyline points="535.40,230.21 535.90,230.21 536.40,230.21 536.90,230.21 537.40,230.21 537.90,230.21 538.40,230.21 538.90,230.21 539.40,230.20 539.90,230.20 540.40,230.20 540.90,230.20 541.40,230.20 541.90,230.20 542.40,230.20 542.90,230.20 543.40,230.20 543.90,230.20 544.40,230.19 544.90,230.19 545.40,230.19 545.90,230.19 546.40,230.19 546.90,230.19 547.40,230.19 547.90,230.19 548.40,230.19 548.90,230.18 549.40,230.18 549.90,230.18 550.40,230.18 550.90,230.18 551.40,230.18 551.90,230.18 552.40,230.17 552.90,230.17 553.40,230.17 553.90,230.17 554.40,230.17 554.90,230.17 555.40,230.17 555.90,230.16 556.40,230.16 556.90,230.16 557.40,230.16 557.90,230.16 558.40,230.16 558.90,230.16 559.40,230.15 559.90,230.15 560.40,230.15 560.90,230.15 561.40,230.15 561.90,230.14 562.40,230.14 562.90,230.14 563.40,230.14 563.90,230.14 564.40,230.13 564.90,230.13 565.40,230.13 565.90,230.13 566.40,230.12 566.90,230.12 567.40,230.12 567.90,230.12 568.40,230.11 568.90,230.11 569.40,230.11 569.90,230.11 570.40,230.10 570.90,230.10 571.40,230.09 571.90,230.09 572.40,230.09 572.90,230.08 573.40,230.08 573.90,230.07 574.40,230.07 574.90,230.06 575.40,230.05 575.90,230.04 576.40,230.03 576.90,230.02 577.40,230.01 577.90,230.00 578.40,229.99 578.90,229.97 579.40,229.96 579.90,229.94 580.40,229.92 580.90,229.90 581.40,229.87 581.90,229.84 582.40,229.81 582.90,229.78 583.40,229.74 583.90,229.69 584.40,229.65 584.90,229.60 585.40,229.54 585.90,229.48 586.40,229.41 586.90,229.34 587.40,229.26 587.90,229.17 588.40,229.07 588.90,228.97 589.40,228.86 589.90,228.74 590.40,228.61 590.90,228.48 591.40,228.33 591.90,228.18 592.40,228.01 592.90,227.84 593.40,227.65 593.90,227.46 594.40,227.25 594.90,227.04 595.40,226.82 595.90,226.58 596.40,226.34 596.90,226.09 597.40,225.83 597.90,225.56 598.40,225.28 598.90,225.00 599.40,224.70 599.90,224.40 600.40,224.09 600.90,223.77 601.40,223.45 601.90,223.12 602.40,222.78 602.90,222.43 603.40,222.07 603.90,221.71 604.40,221.34 604.90,220.95 605.40,220.55 605.90,220.15 606.40,219.72 606.90,219.28 607.40,218.82 607.90,218.34 608.40,217.83 608.90,217.30 609.40,216.74 609.90,216.13 610.40,215.49 610.90,214.80 611.40,214.06 611.90,213.26 612.40,212.41 612.90,211.50 613.40,210.51 613.90,209.46 614.40,208.33 614.90,207.12 615.40,205.82 615.90,204.44 616.40,202.96 616.90,201.38 617.40,199.71 617.90,197.92 618.40,196.03 618.90,194.03 619.40,191.92 619.90,189.69 620.40,187.35 620.90,184.89 621.40,182.32 621.90,179.63 622.40,176.82 622.90,173.91 623.40,170.88 623.90,167.75 624.40,164.52 624.90,161.19 625.40,157.78 625.90,154.28 626.40,150.71 626.90,147.07 627.40,143.38 627.90,139.64 628.40,135.87 628.90,132.08 629.40,128.27 629.90,124.47 630.40,120.68 630.90,116.92 631.40,113.21 631.90,109.55 632.40,105.97 632.90,102.48 633.40,99.09 633.90,95.83 634.40,92.69 634.90,89.71 635.40,86.88 635.90,84.24 636.40,81.78 636.90,79.52 637.40,77.48 637.90,75.66 638.40,74.08 638.90,72.73 639.40,71.64 639.90,70.81 640.40,70.23 640.90,69.92 641.40,69.87 641.90,70.10 642.40,70.59 642.90,71.36 643.40,72.39 643.90,73.67 644.40,75.21 644.90,77.00 645.40,79.01 645.90,81.25 646.40,83.70 646.90,86.35 647.40,89.18 647.90,92.18 648.40,95.34 648.90,98.64 649.40,102.07 649.90,105.61 650.40,109.24 650.90,112.96 651.40,116.74 651.90,120.58 652.40,124.45 652.90,128.35 653.40,132.26 653.90,136.16 654.40,140.06 654.90,143.92 655.40,147.75 655.90,151.53 656.40,155.26 656.90,158.92 657.40,162.50 657.90,166.01 658.40,169.42 658.90,172.74 659.40,175.97 659.90,179.09 660.40,182.10 660.90,185.00 661.40,187.80 661.90,190.48 662.40,193.04 662.90,195.49 663.40,197.83 663.90,200.05 664.40,202.16 664.90,204.16 665.40,206.05 665.90,207.84 666.40,209.52 666.90,211.11 667.40,212.59 667.90,213.98 668.40,215.28 668.90,216.50 669.40,217.63 669.90,218.68 670.40,219.66 670.90,220.57 671.40,221.41 671.90,222.18 672.40,222.90 672.90,223.56 673.40,224.16 673.90,224.72 674.40,225.23 674.90,225.70 675.40,226.13 675.90,226.52 676.40,226.87 676.90,227.20 677.40,227.50 677.90,227.77 678.40,228.01 678.90,228.23 679.40,228.44 679.90,228.62 680.40,228.79 680.90,228.94 681.40,229.07 681.90,229.20 682.40,229.31 682.90,229.41 683.40,229.51 683.90,229.59 684.40,229.67 684.90,229.74 685.40,229.80 685.90,229.86 686.40,229.91 686.90,229.96 687.40,230.01 687.90,230.05 688.40,230.09 688.90,230.12 689.40,230.16 689.90,230.19 690.40,230.22 690.90,230.24 691.40,230.27 691.90,230.29 692.40,230.31 692.90,230.34 693.40,230.36 693.90,230.38 694.40,230.39 694.90,230.41 695.40,230.43 695.90,230.44 696.40,230.46 696.90,230.48 697.40,230.49 697.90,230.50 698.40,230.52 698.90,230.53 699.40,230.54 699.90,230.56 700.40,230.57 700.90,230.58 701.40,230.59 701.90,230.60 702.40,230.61 702.90,230.62 703.40,230.63 703.90,230.64 704.40,230.65 704.90,230.66 705.40,230.67 705.90,230.68 706.40,230.69 706.90,230.70 707.40,230.71 707.90,230.72 708.40,230.73 708.90,230.73 709.40,230.74 709.90,230.75" fill="none" stroke="#0a0a0a" stroke-width="1.15" stroke-linejoin="round" stroke-linecap="round" />
<polyline points="535.40,230.21 535.90,230.21 536.40,230.21 536.90,230.21 537.40,230.21 537.90,230.21 538.40,230.21 538.90,230.21 539.40,230.20 539.90,230.20 540.40,230.20 540.90,230.20 541.40,230.20 541.90,230.20 542.40,230.20 542.90,230.20 543.40,230.20 543.90,230.20 544.40,230.19 544.90,230.19 545.40,230.19 545.90,230.19 546.40,230.19 546.90,230.19 547.40,230.19 547.90,230.19 548.40,230.19 548.90,230.18 549.40,230.18 549.90,230.18 550.40,230.18 550.90,230.18 551.40,230.18 551.90,230.18 552.40,230.17 552.90,230.17 553.40,230.17 553.90,230.17 554.40,230.17 554.90,230.17 555.40,230.17 555.90,230.16 556.40,230.16 556.90,230.16 557.40,230.16 557.90,230.16 558.40,230.16 558.90,230.16 559.40,230.15 559.90,230.15 560.40,230.15 560.90,230.15 561.40,230.15 561.90,230.14 562.40,230.14 562.90,230.14 563.40,230.14 563.90,230.14 564.40,230.13 564.90,230.13 565.40,230.13 565.90,230.13 566.40,230.13 566.90,230.12 567.40,230.12 567.90,230.12 568.40,230.12 568.90,230.11 569.40,230.11 569.90,230.11 570.40,230.11 570.90,230.10 571.40,230.10 571.90,230.10 572.40,230.10 572.90,230.09 573.40,230.09 573.90,230.09 574.40,230.08 574.90,230.08 575.40,230.08 575.90,230.07 576.40,230.07 576.90,230.07 577.40,230.06 577.90,230.06 578.40,230.06 578.90,230.05 579.40,230.05 579.90,230.04 580.40,230.04 580.90,230.04 581.40,230.03 581.90,230.03 582.40,230.02 582.90,230.02 583.40,230.01 583.90,230.01 584.40,230.00 584.90,230.00 585.40,229.99 585.90,229.98 586.40,229.98 586.90,229.97 587.40,229.96 587.90,229.96 588.40,229.95 588.90,229.94 589.40,229.93 589.90,229.92 590.40,229.91 590.90,229.90 591.40,229.88 591.90,229.87 592.40,229.85 592.90,229.83 593.40,229.81 593.90,229.79 594.40,229.77 594.90,229.74 595.40,229.71 595.90,229.68 596.40,229.64 596.90,229.60 597.40,229.55 597.90,229.50 598.40,229.44 598.90,229.38 599.40,229.31 599.90,229.22 600.40,229.13 600.90,229.03 601.40,228.92 601.90,228.79 602.40,228.65 602.90,228.49 603.40,228.32 603.90,228.12 604.40,227.90 604.90,227.66 605.40,227.40 605.90,227.10 606.40,226.78 606.90,226.42 607.40,226.03 607.90,225.59 608.40,225.12 608.90,224.60 609.40,224.03 609.90,223.41 610.40,222.73 610.90,222.00 611.40,221.20 611.90,220.34 612.40,219.40 612.90,218.39 613.40,217.30 613.90,216.13 614.40,214.87 614.90,213.52 615.40,212.08 615.90,210.54 616.40,208.89 616.90,207.15 617.40,205.30 617.90,203.33 618.40,201.26 618.90,199.07 619.40,196.77 619.90,194.35 620.40,191.82 620.90,189.17 621.40,186.40 621.90,183.52 622.40,180.53 622.90,177.42 623.40,174.21 623.90,170.90 624.40,167.50 624.90,164.00 625.40,160.42 625.90,156.76 626.40,153.03 626.90,149.25 627.40,145.41 627.90,141.54 628.40,137.63 628.90,133.71 629.40,129.78 629.90,125.87 630.40,121.97 630.90,118.11 631.40,114.30 631.90,110.56 632.40,106.89 632.90,103.32 633.40,99.86 633.90,96.53 634.40,93.33 634.90,90.28 635.40,87.41 635.90,84.71 636.40,82.21 636.90,79.91 637.40,77.83 637.90,75.97 638.40,74.35 638.90,72.98 639.40,71.86 639.90,71.00 640.40,70.40 640.90,70.07 641.40,70.01 641.90,70.22 642.40,70.70 642.90,71.45 643.40,72.47 643.90,73.75 644.40,75.28 644.90,77.05 645.40,79.06 645.90,81.29 646.40,83.74 646.90,86.38 647.40,89.21 647.90,92.21 648.40,95.36 648.90,98.66 649.40,102.08 649.90,105.62 650.40,109.25 650.90,112.97 651.40,116.75 651.90,120.58 652.40,124.46 652.90,128.35 653.40,132.26 653.90,136.17 654.40,140.06 654.90,143.93 655.40,147.75 655.90,151.54 656.40,155.26 656.90,158.92 657.40,162.50 657.90,166.01 658.40,169.42 658.90,172.74 659.40,175.97 659.90,179.09 660.40,182.10 660.90,185.00 661.40,187.80 661.90,190.48 662.40,193.04 662.90,195.49 663.40,197.83 663.90,200.05 664.40,202.16 664.90,204.16 665.40,206.05 665.90,207.84 666.40,209.52 666.90,211.11 667.40,212.59 667.90,213.98 668.40,215.28 668.90,216.50 669.40,217.63 669.90,218.68 670.40,219.66 670.90,220.57 671.40,221.41 671.90,222.18 672.40,222.90 672.90,223.56 673.40,224.16 673.90,224.72 674.40,225.23 674.90,225.70 675.40,226.13 675.90,226.52 676.40,226.87 676.90,227.20 677.40,227.50 677.90,227.77 678.40,228.01 678.90,228.23 679.40,228.44 679.90,228.62 680.40,228.79 680.90,228.94 681.40,229.07 681.90,229.20 682.40,229.31 682.90,229.41 683.40,229.51 683.90,229.59 684.40,229.67 684.90,229.74 685.40,229.80 685.90,229.86 686.40,229.91 686.90,229.96 687.40,230.01 687.90,230.05 688.40,230.09 688.90,230.12 689.40,230.16 689.90,230.19 690.40,230.22 690.90,230.24 691.40,230.27 691.90,230.29 692.40,230.31 692.90,230.34 693.40,230.36 693.90,230.38 694.40,230.39 694.90,230.41 695.40,230.43 695.90,230.44 696.40,230.46 696.90,230.48 697.40,230.49 697.90,230.50 698.40,230.52 698.90,230.53 699.40,230.54 699.90,230.56 700.40,230.57 700.90,230.58 701.40,230.59 701.90,230.60 702.40,230.61 702.90,230.62 703.40,230.63 703.90,230.64 704.40,230.65 704.90,230.66 705.40,230.67 705.90,230.68 706.40,230.69 706.90,230.70 707.40,230.71 707.90,230.72 708.40,230.73 708.90,230.73 709.40,230.74 709.90,230.75" fill="none" stroke="#e00000" stroke-width="0.65" stroke-linejoin="round" stroke-linecap="round" opacity="0.8"/>
</g>
<g clip-path="url(#c4)">
<polyline points="709.90,231.50 710.40,231.50 710.90,231.50 711.40,231.50 711.90,231.50 712.40,231.50 712.90,231.50 713.40,231.50 713.90,231.50 714.40,231.50 714.90,231.50 715.40,231.50 715.90,231.50 716.40,231.50 716.90,231.50 717.40,231.50 717.90,231.50 718.40,231.50 718.90,231.50 719.40,231.50 719.90,231.50 720.40,231.50 720.90,231.50 721.40,231.50 721.90,231.50 722.40,231.50 722.90,231.50 723.40,231.50 723.90,231.50 724.40,231.50 724.90,231.50 725.40,231.50 725.90,231.50 726.40,231.50 726.90,231.50 727.40,231.50 727.90,231.50 728.40,231.50 728.90,231.50 729.40,231.50 729.90,231.50 730.40,231.50 730.90,231.50 731.40,231.50 731.90,231.50 732.40,231.50 732.90,231.50 733.40,231.50 733.90,231.50 734.40,231.50 734.90,231.50 735.40,231.50 735.90,231.50 736.40,231.50 736.90,231.50 737.40,231.50 737.90,231.50 738.40,231.50 738.90,231.50 739.40,231.50 739.90,231.50 740.40,231.50 740.90,231.50 741.40,231.50 741.90,231.50 742.40,231.50 742.90,231.50 743.40,231.50 743.90,231.50 744.40,231.50 744.90,231.50 745.40,231.50 745.90,231.50 746.40,231.50 746.90,231.50 747.40,231.50 747.90,231.50 748.40,231.50 748.90,231.50 749.40,231.50 749.90,231.49 750.40,231.49 750.90,231.49 751.40,231.49 751.90,231.49 752.40,231.49 752.90,231.48 753.40,231.48 753.90,231.47 754.40,231.47 754.90,231.46 755.40,231.46 755.90,231.45 756.40,231.44 756.90,231.43 757.40,231.41 757.90,231.40 758.40,231.38 758.90,231.36 759.40,231.34 759.90,231.31 760.40,231.29 760.90,231.25 761.40,231.22 761.90,231.18 762.40,231.13 762.90,231.08 763.40,231.03 763.90,230.96 764.40,230.90 764.90,230.82 765.40,230.74 765.90,230.65 766.40,230.56 766.90,230.46 767.40,230.35 767.90,230.23 768.40,230.10 768.90,229.97 769.40,229.83 769.90,229.68 770.40,229.53 770.90,229.37 771.40,229.20 771.90,229.02 772.40,228.85 772.90,228.66 773.40,228.48 773.90,228.29 774.40,228.10 774.90,227.91 775.40,227.73 775.90,227.54 776.40,227.36 776.90,227.19 777.40,227.02 777.90,226.85 778.40,226.70 778.90,226.56 779.40,226.43 779.90,226.31 780.40,226.20 780.90,226.11 781.40,226.04 781.90,225.98 782.40,225.93 782.90,225.91 783.40,225.90 783.90,225.91 784.40,225.93 784.90,225.96 785.40,226.00 785.90,226.06 786.40,226.12 786.90,226.20 787.40,226.29 787.90,226.39 788.40,226.50 788.90,226.62 789.40,226.74 789.90,226.88 790.40,227.02 790.90,227.16 791.40,227.31 791.90,227.46 792.40,227.62 792.90,227.78 793.40,227.94 793.90,228.10 794.40,228.27 794.90,228.43 795.40,228.59 795.90,228.74 796.40,228.90 796.90,229.05 797.40,229.20 797.90,229.34 798.40,229.48 798.90,229.62 799.40,229.75 799.90,229.87 800.40,229.99 800.90,230.10 801.40,230.21 801.90,230.31 802.40,230.41 802.90,230.50 803.40,230.59 803.90,230.67 804.40,230.74 804.90,230.81 805.40,230.88 805.90,230.94 806.40,230.99 806.90,231.04 807.40,231.09 807.90,231.13 808.40,231.17 808.90,231.21 809.40,231.24 809.90,231.27 810.40,231.29 810.90,231.32 811.40,231.34 811.90,231.36 812.40,231.38 812.90,231.39 813.40,231.41 813.90,231.42 814.40,231.43 814.90,231.44 815.40,231.45 815.90,231.45 816.40,231.46 816.90,231.47 817.40,231.47 817.90,231.47 818.40,231.48 818.90,231.48 819.40,231.48 819.90,231.49 820.40,231.49 820.90,231.49 821.40,231.49 821.90,231.49 822.40,231.49 822.90,231.50 823.40,231.50 823.90,231.50 824.40,231.50 824.90,231.50 825.40,231.50 825.90,231.50 826.40,231.50 826.90,231.50 827.40,231.50 827.90,231.50 828.40,231.50 828.90,231.50 829.40,231.50 829.90,231.50 830.40,231.50 830.90,231.50 831.40,231.50 831.90,231.50 832.40,231.50 832.90,231.50 833.40,231.50 833.90,231.50 834.40,231.50 834.90,231.50 835.40,231.50 835.90,231.50 836.40,231.50 836.90,231.50 837.40,231.50 837.90,231.50 838.40,231.50 838.90,231.50 839.40,231.50 839.90,231.50 840.40,231.50 840.90,231.50 841.40,231.50 841.90,231.50 842.40,231.50 842.90,231.50 843.40,231.50 843.90,231.50 844.40,231.50 844.90,231.50 845.40,231.50 845.90,231.50 846.40,231.50 846.90,231.50 847.40,231.50 847.90,231.50 848.40,231.50 848.90,231.50 849.40,231.50 849.90,231.50 850.40,231.50 850.90,231.50 851.40,231.50 851.90,231.50 852.40,231.50 852.90,231.50 853.40,231.50 853.90,231.50 854.40,231.50 854.90,231.50 855.40,231.50 855.90,231.50 856.40,231.50 856.90,231.50 857.40,231.50 857.90,231.50 858.40,231.50 858.90,231.50 859.40,231.50 859.90,231.50 860.40,231.50 860.90,231.50 861.40,231.50 861.90,231.50 862.40,231.50 862.90,231.50 863.40,231.50 863.90,231.50 864.40,231.50 864.90,231.50 865.40,231.50 865.90,231.50 866.40,231.50 866.90,231.50 867.40,231.50 867.90,231.50 868.40,231.50 868.90,231.50 869.40,231.50 869.90,231.50 870.40,231.50 870.90,231.50 871.40,231.50 871.90,231.50 872.40,231.50 872.90,231.50 873.40,231.50 873.90,231.50 874.40,231.50 874.90,231.50 875.40,231.50 875.90,231.50 876.40,231.50 876.90,231.50 877.40,231.50 877.90,231.50 878.40,231.50 878.90,231.50 879.40,231.50 879.90,231.50 880.40,231.50 880.90,231.50 881.40,231.50 881.90,231.50 882.40,231.50 882.90,231.50 883.40,231.50 883.90,231.50" fill="none" stroke="#5050ff" stroke-width="0.65" stroke-linejoin="round" stroke-linecap="round" />
<polyline points="710.60,229.88 712.05,230.14 713.50,229.20 714.95,229.70 716.40,230.20 717.85,230.68 719.30,230.25 720.75,229.80 722.20,229.39 723.65,229.49 725.10,229.61 726.55,229.97 728.00,229.87 729.45,230.65 730.90,230.01 732.35,229.37 733.80,230.56 735.25,230.28 736.70,229.87 738.15,229.48 739.60,228.94 741.05,229.31 742.50,230.19 743.95,229.38 745.40,229.12 746.85,229.80 748.30,229.80 749.75,229.94 751.20,229.94 752.65,230.25 754.10,229.18 755.55,229.97 757.00,229.00 758.45,229.70 759.90,229.36 761.35,229.25 762.80,229.41 764.25,228.72 765.70,228.94 767.15,228.45 768.60,227.64 770.05,226.75 771.50,225.99 772.95,225.31 774.40,224.57 775.85,223.63 777.30,223.92 778.75,221.52 780.20,220.12 781.65,217.64 783.10,215.75 784.55,213.61 786.00,211.05 787.45,206.93 788.90,204.30 790.35,198.00 791.80,193.14 793.25,183.84 794.70,177.48 796.15,168.65 797.60,158.53 799.05,147.95 800.50,135.96 801.95,123.65 803.40,108.84 804.85,97.86 806.30,83.87 807.75,76.92 809.20,66.90 810.65,58.24 812.10,51.38 813.55,48.11 815.00,50.70 816.45,51.89 817.90,53.03 819.35,61.24 820.80,65.27 822.25,74.74 823.70,87.86 825.15,99.32 826.60,112.11 828.05,125.40 829.50,140.48 830.95,148.51 832.40,160.20 833.85,170.56 835.30,179.54 836.75,188.46 838.20,196.20 839.65,200.46 841.10,206.65 842.55,210.86 844.00,214.90 845.45,216.91 846.90,219.26 848.35,220.96 849.80,223.95 851.25,225.01 852.70,225.91 854.15,225.50 855.60,227.05 857.05,227.35 858.50,227.41 859.95,227.95 861.40,228.95 862.85,229.09 864.30,229.00 865.75,229.40 867.20,229.01 868.65,229.45 870.10,229.54 871.55,229.87 873.00,229.67 874.45,229.72 875.90,229.80 877.35,229.64 878.80,231.03 880.25,230.30 881.70,230.32 883.15,231.23" fill="none" stroke="#0a0a0a" stroke-width="0.8" stroke-linejoin="round" stroke-linecap="round" />
<path d="M709.70 228.98h1.8v1.8h-1.8zM711.15 229.24h1.8v1.8h-1.8zM712.60 228.30h1.8v1.8h-1.8zM714.05 228.80h1.8v1.8h-1.8zM715.50 229.30h1.8v1.8h-1.8zM716.95 229.78h1.8v1.8h-1.8zM718.40 229.35h1.8v1.8h-1.8zM719.85 228.90h1.8v1.8h-1.8zM721.30 228.49h1.8v1.8h-1.8zM722.75 228.59h1.8v1.8h-1.8zM724.20 228.71h1.8v1.8h-1.8zM725.65 229.07h1.8v1.8h-1.8zM727.10 228.97h1.8v1.8h-1.8zM728.55 229.75h1.8v1.8h-1.8zM730.00 229.11h1.8v1.8h-1.8zM731.45 228.47h1.8v1.8h-1.8zM732.90 229.66h1.8v1.8h-1.8zM734.35 229.38h1.8v1.8h-1.8zM735.80 228.97h1.8v1.8h-1.8zM737.25 228.58h1.8v1.8h-1.8zM738.70 228.04h1.8v1.8h-1.8zM740.15 228.41h1.8v1.8h-1.8zM741.60 229.29h1.8v1.8h-1.8zM743.05 228.48h1.8v1.8h-1.8zM744.50 228.22h1.8v1.8h-1.8zM745.95 228.90h1.8v1.8h-1.8zM747.40 228.90h1.8v1.8h-1.8zM748.85 229.04h1.8v1.8h-1.8zM750.30 229.04h1.8v1.8h-1.8zM751.75 229.35h1.8v1.8h-1.8zM753.20 228.28h1.8v1.8h-1.8zM754.65 229.07h1.8v1.8h-1.8zM756.10 228.10h1.8v1.8h-1.8zM757.55 228.80h1.8v1.8h-1.8zM759.00 228.46h1.8v1.8h-1.8zM760.45 228.35h1.8v1.8h-1.8zM761.90 228.51h1.8v1.8h-1.8zM763.35 227.82h1.8v1.8h-1.8zM764.80 228.04h1.8v1.8h-1.8zM766.25 227.55h1.8v1.8h-1.8zM767.70 226.74h1.8v1.8h-1.8zM769.15 225.85h1.8v1.8h-1.8zM770.60 225.09h1.8v1.8h-1.8zM772.05 224.41h1.8v1.8h-1.8zM773.50 223.67h1.8v1.8h-1.8zM774.95 222.73h1.8v1.8h-1.8zM776.40 223.02h1.8v1.8h-1.8zM777.85 220.62h1.8v1.8h-1.8zM779.30 219.22h1.8v1.8h-1.8zM780.75 216.74h1.8v1.8h-1.8zM782.20 214.85h1.8v1.8h-1.8zM783.65 212.71h1.8v1.8h-1.8zM785.10 210.15h1.8v1.8h-1.8zM786.55 206.03h1.8v1.8h-1.8zM788.00 203.40h1.8v1.8h-1.8zM789.45 197.10h1.8v1.8h-1.8zM790.90 192.24h1.8v1.8h-1.8zM792.35 182.94h1.8v1.8h-1.8zM793.80 176.58h1.8v1.8h-1.8zM795.25 167.75h1.8v1.8h-1.8zM796.70 157.63h1.8v1.8h-1.8zM798.15 147.05h1.8v1.8h-1.8zM799.60 135.06h1.8v1.8h-1.8zM801.05 122.75h1.8v1.8h-1.8zM802.50 107.94h1.8v1.8h-1.8zM803.95 96.96h1.8v1.8h-1.8zM805.40 82.97h1.8v1.8h-1.8zM806.85 76.02h1.8v1.8h-1.8zM808.30 66.00h1.8v1.8h-1.8zM809.75 57.34h1.8v1.8h-1.8zM811.20 50.48h1.8v1.8h-1.8zM812.65 47.21h1.8v1.8h-1.8zM814.10 49.80h1.8v1.8h-1.8zM815.55 50.99h1.8v1.8h-1.8zM817.00 52.13h1.8v1.8h-1.8zM818.45 60.34h1.8v1.8h-1.8zM819.90 64.37h1.8v1.8h-1.8zM821.35 73.84h1.8v1.8h-1.8zM822.80 86.96h1.8v1.8h-1.8zM824.25 98.42h1.8v1.8h-1.8zM825.70 111.21h1.8v1.8h-1.8zM827.15 124.50h1.8v1.8h-1.8zM828.60 139.58h1.8v1.8h-1.8zM830.05 147.61h1.8v1.8h-1.8zM831.50 159.30h1.8v1.8h-1.8zM832.95 169.66h1.8v1.8h-1.8zM834.40 178.64h1.8v1.8h-1.8zM835.85 187.56h1.8v1.8h-1.8zM837.30 195.30h1.8v1.8h-1.8zM838.75 199.56h1.8v1.8h-1.8zM840.20 205.75h1.8v1.8h-1.8zM841.65 209.96h1.8v1.8h-1.8zM843.10 214.00h1.8v1.8h-1.8zM844.55 216.01h1.8v1.8h-1.8zM846.00 218.36h1.8v1.8h-1.8zM847.45 220.06h1.8v1.8h-1.8zM848.90 223.05h1.8v1.8h-1.8zM850.35 224.11h1.8v1.8h-1.8zM851.80 225.01h1.8v1.8h-1.8zM853.25 224.60h1.8v1.8h-1.8zM854.70 226.15h1.8v1.8h-1.8zM856.15 226.45h1.8v1.8h-1.8zM857.60 226.51h1.8v1.8h-1.8zM859.05 227.05h1.8v1.8h-1.8zM860.50 228.05h1.8v1.8h-1.8zM861.95 228.19h1.8v1.8h-1.8zM863.40 228.10h1.8v1.8h-1.8zM864.85 228.50h1.8v1.8h-1.8zM866.30 228.11h1.8v1.8h-1.8zM867.75 228.55h1.8v1.8h-1.8zM869.20 228.64h1.8v1.8h-1.8zM870.65 228.97h1.8v1.8h-1.8zM872.10 228.77h1.8v1.8h-1.8zM873.55 228.82h1.8v1.8h-1.8zM875.00 228.90h1.8v1.8h-1.8zM876.45 228.74h1.8v1.8h-1.8zM877.90 230.13h1.8v1.8h-1.8zM879.35 229.40h1.8v1.8h-1.8zM880.80 229.42h1.8v1.8h-1.8zM882.25 230.33h1.8v1.8h-1.8z" fill="#0a0a0a"/>
<polyline points="709.90,229.99 710.40,229.99 710.90,229.99 711.40,229.98 711.90,229.98 712.40,229.98 712.90,229.98 713.40,229.97 713.90,229.97 714.40,229.97 714.90,229.97 715.40,229.97 715.90,229.96 716.40,229.96 716.90,229.96 717.40,229.96 717.90,229.95 718.40,229.95 718.90,229.95 719.40,229.95 719.90,229.94 720.40,229.94 720.90,229.94 721.40,229.94 721.90,229.93 722.40,229.93 722.90,229.93 723.40,229.92 723.90,229.92 724.40,229.92 724.90,229.92 725.40,229.91 725.90,229.91 726.40,229.91 726.90,229.90 727.40,229.90 727.90,229.90 728.40,229.89 728.90,229.89 729.40,229.89 729.90,229.88 730.40,229.88 730.90,229.87 731.40,229.87 731.90,229.87 732.40,229.86 732.90,229.86 733.40,229.85 733.90,229.85 734.40,229.85 734.90,229.84 735.40,229.84 735.90,229.83 736.40,229.83 736.90,229.82 737.40,229.82 737.90,229.81 738.40,229.81 738.90,229.81 739.40,229.80 739.90,229.79 740.40,229.79 740.90,229.78 741.40,229.78 741.90,229.77 742.40,229.77 742.90,229.76 743.40,229.76 743.90,229.75 744.40,229.74 744.90,229.74 745.40,229.73 745.90,229.72 746.40,229.72 746.90,229.71 747.40,229.70 747.90,229.69 748.40,229.69 748.90,229.68 749.40,229.67 749.90,229.66 750.40,229.65 750.90,229.64 751.40,229.63 751.90,229.62 752.40,229.61 752.90,229.60 753.40,229.59 753.90,229.57 754.40,229.56 754.90,229.54 755.40,229.52 755.90,229.51 756.40,229.49 756.90,229.46 757.40,229.44 757.90,229.41 758.40,229.38 758.90,229.35 759.40,229.31 759.90,229.28 760.40,229.23 760.90,229.18 761.40,229.13 761.90,229.08 762.40,229.01 762.90,228.94 763.40,228.87 763.90,228.79 764.40,228.70 764.90,228.60 765.40,228.49 765.90,228.38 766.40,228.25 766.90,228.12 767.40,227.97 767.90,227.82 768.40,227.65 768.90,227.47 769.40,227.28 769.90,227.08 770.40,226.86 770.90,226.63 771.40,226.39 771.90,226.14 772.40,225.87 772.90,225.59 773.40,225.29 773.90,224.98 774.40,224.66 774.90,224.33 775.40,223.97 775.90,223.61 776.40,223.23 776.90,222.83 777.40,222.42 777.90,221.99 778.40,221.54 778.90,221.07 779.40,220.58 779.90,220.07 780.40,219.53 780.90,218.97 781.40,218.38 781.90,217.75 782.40,217.09 782.90,216.40 783.40,215.66 783.90,214.88 784.40,214.04 784.90,213.14 785.40,212.19 785.90,211.16 786.40,210.07 786.90,208.89 787.40,207.64 787.90,206.30 788.40,204.87 788.90,203.35 789.40,201.73 789.90,200.00 790.40,198.17 790.90,196.22 791.40,194.16 791.90,191.98 792.40,189.68 792.90,187.25 793.40,184.71 793.90,182.03 794.40,179.23 794.90,176.30 795.40,173.24 795.90,170.06 796.40,166.76 796.90,163.34 797.40,159.80 797.90,156.16 798.40,152.41 798.90,148.56 799.40,144.62 799.90,140.60 800.40,136.51 800.90,132.35 801.40,128.14 801.90,123.90 802.40,119.62 802.90,115.34 803.40,111.05 803.90,106.77 804.40,102.53 804.90,98.33 805.40,94.19 805.90,90.13 806.40,86.17 806.90,82.31 807.40,78.58 807.90,74.99 808.40,71.57 808.90,68.31 809.40,65.25 809.90,62.40 810.40,59.76 810.90,57.36 811.40,55.21 811.90,53.31 812.40,51.69 812.90,50.34 813.40,49.27 813.90,48.50 814.40,48.02 814.90,47.84 815.40,47.96 815.90,48.39 816.40,49.13 816.90,50.17 817.40,51.50 817.90,53.12 818.40,55.01 818.90,57.17 819.40,59.58 819.90,62.23 820.40,65.10 820.90,68.18 821.40,71.45 821.90,74.89 822.40,78.50 822.90,82.24 823.40,86.11 823.90,90.09 824.40,94.16 824.90,98.31 825.40,102.51 825.90,106.76 826.40,111.04 826.90,115.34 827.40,119.63 827.90,123.91 828.40,128.17 828.90,132.40 829.40,136.58 829.90,140.70 830.40,144.75 830.90,148.74 831.40,152.63 831.90,156.44 832.40,160.16 832.90,163.77 833.40,167.27 833.90,170.67 834.40,173.95 834.90,177.12 835.40,180.17 835.90,183.09 836.40,185.90 836.90,188.59 837.40,191.15 837.90,193.60 838.40,195.93 838.90,198.14 839.40,200.24 839.90,202.23 840.40,204.10 840.90,205.88 841.40,207.55 841.90,209.11 842.40,210.59 842.90,211.97 843.40,213.26 843.90,214.47 844.40,215.60 844.90,216.65 845.40,217.63 845.90,218.54 846.40,219.39 846.90,220.17 847.40,220.90 847.90,221.57 848.40,222.19 848.90,222.76 849.40,223.29 849.90,223.78 850.40,224.23 850.90,224.64 851.40,225.02 851.90,225.37 852.40,225.70 852.90,225.99 853.40,226.27 853.90,226.52 854.40,226.75 854.90,226.96 855.40,227.16 855.90,227.34 856.40,227.50 856.90,227.66 857.40,227.80 857.90,227.93 858.40,228.05 858.90,228.17 859.40,228.27 859.90,228.37 860.40,228.46 860.90,228.55 861.40,228.63 861.90,228.70 862.40,228.77 862.90,228.84 863.40,228.90 863.90,228.96 864.40,229.02 864.90,229.08 865.40,229.13 865.90,229.18 866.40,229.22 866.90,229.27 867.40,229.31 867.90,229.35 868.40,229.39 868.90,229.43 869.40,229.47 869.90,229.51 870.40,229.54 870.90,229.57 871.40,229.61 871.90,229.64 872.40,229.67 872.90,229.70 873.40,229.73 873.90,229.76 874.40,229.79 874.90,229.81 875.40,229.84 875.90,229.87 876.40,229.89 876.90,229.92 877.40,229.94 877.90,229.96 878.40,229.99 878.90,230.01 879.40,230.03 879.90,230.05 880.40,230.07 880.90,230.09 881.40,230.11 881.90,230.13 882.40,230.15 882.90,230.17 883.40,230.19 883.90,230.21" fill="none" stroke="#0a0a0a" stroke-width="1.15" stroke-linejoin="round" stroke-linecap="round" />
<polyline points="709.90,229.99 710.40,229.99 710.90,229.99 711.40,229.98 711.90,229.98 712.40,229.98 712.90,229.98 713.40,229.97 713.90,229.97 714.40,229.97 714.90,229.97 715.40,229.97 715.90,229.96 716.40,229.96 716.90,229.96 717.40,229.96 717.90,229.95 718.40,229.95 718.90,229.95 719.40,229.95 719.90,229.94 720.40,229.94 720.90,229.94 721.40,229.94 721.90,229.93 722.40,229.93 722.90,229.93 723.40,229.92 723.90,229.92 724.40,229.92 724.90,229.92 725.40,229.91 725.90,229.91 726.40,229.91 726.90,229.90 727.40,229.90 727.90,229.90 728.40,229.89 728.90,229.89 729.40,229.89 729.90,229.88 730.40,229.88 730.90,229.87 731.40,229.87 731.90,229.87 732.40,229.86 732.90,229.86 733.40,229.85 733.90,229.85 734.40,229.85 734.90,229.84 735.40,229.84 735.90,229.83 736.40,229.83 736.90,229.82 737.40,229.82 737.90,229.81 738.40,229.81 738.90,229.81 739.40,229.80 739.90,229.79 740.40,229.79 740.90,229.78 741.40,229.78 741.90,229.77 742.40,229.77 742.90,229.76 743.40,229.76 743.90,229.75 744.40,229.74 744.90,229.74 745.40,229.73 745.90,229.72 746.40,229.72 746.90,229.71 747.40,229.70 747.90,229.70 748.40,229.69 748.90,229.68 749.40,229.67 749.90,229.67 750.40,229.66 750.90,229.65 751.40,229.64 751.90,229.63 752.40,229.63 752.90,229.62 753.40,229.61 753.90,229.60 754.40,229.59 754.90,229.58 755.40,229.57 755.90,229.56 756.40,229.55 756.90,229.54 757.40,229.52 757.90,229.51 758.40,229.50 758.90,229.49 759.40,229.47 759.90,229.46 760.40,229.45 760.90,229.43 761.40,229.42 761.90,229.40 762.40,229.38 762.90,229.36 763.40,229.34 763.90,229.32 764.40,229.30 764.90,229.28 765.40,229.25 765.90,229.22 766.40,229.19 766.90,229.16 767.40,229.12 767.90,229.09 768.40,229.04 768.90,229.00 769.40,228.95 769.90,228.89 770.40,228.83 770.90,228.77 771.40,228.69 771.90,228.61 772.40,228.52 772.90,228.42 773.40,228.31 773.90,228.19 774.40,228.06 774.90,227.91 775.40,227.75 775.90,227.57 776.40,227.37 776.90,227.14 777.40,226.90 777.90,226.63 778.40,226.34 778.90,226.01 779.40,225.65 779.90,225.26 780.40,224.83 780.90,224.36 781.40,223.84 781.90,223.28 782.40,222.66 782.90,221.99 783.40,221.26 783.90,220.47 784.40,219.62 784.90,218.69 785.40,217.69 785.90,216.61 786.40,215.44 786.90,214.19 787.40,212.85 787.90,211.41 788.40,209.87 788.90,208.23 789.40,206.48 789.90,204.62 790.40,202.65 790.90,200.56 791.40,198.35 791.90,196.01 792.40,193.56 792.90,190.97 793.40,188.26 793.90,185.43 794.40,182.46 794.90,179.37 795.40,176.16 795.90,172.82 796.40,169.36 796.90,165.79 797.40,162.11 797.90,158.32 798.40,154.43 798.90,150.44 799.40,146.37 799.90,142.23 800.40,138.02 800.90,133.75 801.40,129.43 801.90,125.08 802.40,120.71 802.90,116.33 803.40,111.96 803.90,107.61 804.40,103.29 804.90,99.02 805.40,94.82 805.90,90.70 806.40,86.68 806.90,82.77 807.40,78.99 807.90,75.36 808.40,71.89 808.90,68.61 809.40,65.51 809.90,62.63 810.40,59.97 810.90,57.55 811.40,55.37 811.90,53.45 812.40,51.81 812.90,50.44 813.40,49.37 813.90,48.58 814.40,48.09 814.90,47.90 815.40,48.02 815.90,48.44 816.40,49.17 816.90,50.20 817.40,51.53 817.90,53.14 818.40,55.03 818.90,57.19 819.40,59.59 819.90,62.24 820.40,65.11 820.90,68.19 821.40,71.46 821.90,74.90 822.40,78.50 822.90,82.25 823.40,86.12 823.90,90.10 824.40,94.17 824.90,98.31 825.40,102.52 825.90,106.76 826.40,111.04 826.90,115.34 827.40,119.63 827.90,123.92 828.40,128.18 828.90,132.40 829.40,136.58 829.90,140.70 830.40,144.76 830.90,148.74 831.40,152.63 831.90,156.44 832.40,160.16 832.90,163.77 833.40,167.28 833.90,170.67 834.40,173.95 834.90,177.12 835.40,180.17 835.90,183.09 836.40,185.90 836.90,188.59 837.40,191.15 837.90,193.60 838.40,195.93 838.90,198.14 839.40,200.24 839.90,202.23 840.40,204.10 840.90,205.88 841.40,207.55 841.90,209.11 842.40,210.59 842.90,211.97 843.40,213.26 843.90,214.47 844.40,215.60 844.90,216.65 845.40,217.63 845.90,218.54 846.40,219.39 846.90,220.17 847.40,220.90 847.90,221.57 848.40,222.19 848.90,222.76 849.40,223.29 849.90,223.78 850.40,224.23 850.90,224.64 851.40,225.02 851.90,225.37 852.40,225.70 852.90,225.99 853.40,226.27 853.90,226.52 854.40,226.75 854.90,226.96 855.40,227.16 855.90,227.34 856.40,227.50 856.90,227.66 857.40,227.80 857.90,227.93 858.40,228.05 858.90,228.17 859.40,228.27 859.90,228.37 860.40,228.46 860.90,228.55 861.40,228.63 861.90,228.70 862.40,228.77 862.90,228.84 863.40,228.90 863.90,228.96 864.40,229.02 864.90,229.08 865.40,229.13 865.90,229.18 866.40,229.22 866.90,229.27 867.40,229.31 867.90,229.35 868.40,229.39 868.90,229.43 869.40,229.47 869.90,229.51 870.40,229.54 870.90,229.57 871.40,229.61 871.90,229.64 872.40,229.67 872.90,229.70 873.40,229.73 873.90,229.76 874.40,229.79 874.90,229.81 875.40,229.84 875.90,229.87 876.40,229.89 876.90,229.92 877.40,229.94 877.90,229.96 878.40,229.99 878.90,230.01 879.40,230.03 879.90,230.05 880.40,230.07 880.90,230.09 881.40,230.11 881.90,230.13 882.40,230.15 882.90,230.17 883.40,230.19 883.90,230.21" fill="none" stroke="#e00000" stroke-width="0.65" stroke-linejoin="round" stroke-linecap="round" opacity="0.8"/>
</g>
<polyline points="19.80,226.71 20.95,230.23 22.10,231.59 23.25,228.27 24.40,226.48 25.55,229.26 26.70,230.45 27.85,231.82 29.00,226.73 30.15,226.56 31.30,230.95 32.45,230.44 33.60,232.30 34.75,231.56 35.90,229.18 37.05,228.80 38.20,232.30 39.35,228.76 40.50,227.67 41.65,226.90 42.80,229.61 43.95,229.72 45.10,228.64 46.25,229.26 47.40,230.00 48.55,230.92 49.70,231.81 50.85,229.86 52.00,225.46 53.15,230.94 54.30,226.28 55.45,229.02 56.60,226.16 57.75,229.40 58.90,227.69 60.05,229.87 61.20,232.30 62.35,229.29 63.50,231.25 64.65,226.49 65.80,228.77 66.95,230.86 68.10,229.20 69.25,230.21 70.40,229.63 71.55,227.19 72.70,230.64 73.85,227.61 75.00,232.30 76.15,228.29 77.30,230.91 78.45,229.41 79.60,231.50 80.75,228.08 81.90,231.60 83.05,229.13 84.20,232.18 85.35,230.77 86.50,229.71 87.65,227.68 88.80,231.09 89.95,230.43 91.10,232.30 92.25,228.57 93.40,230.62 94.55,230.52 95.70,230.02 96.85,229.86 98.00,229.80 99.15,228.08 100.30,227.17 101.45,228.53 102.60,230.70 103.75,232.30 104.90,231.55 106.05,231.72 107.20,231.11 108.35,230.94 109.50,229.80 110.65,231.10 111.80,232.30 112.95,228.68 114.10,227.87 115.25,232.30 116.40,229.94 117.55,231.54 118.70,231.32 119.85,226.90 121.00,232.30 122.15,232.30 123.30,229.79 124.45,231.06 125.60,229.68 126.75,227.45 127.90,229.15 129.05,230.22 130.20,231.85 131.35,230.96 132.50,229.53 133.65,232.30 134.80,227.73 135.95,231.14 137.10,231.85 138.25,228.76 139.40,225.46 140.55,227.41 141.70,229.92 142.85,230.56 144.00,232.30 145.15,227.19 146.30,229.40 147.45,230.83 148.60,229.05 149.75,224.30 150.90,231.17 152.05,232.30 153.20,231.61 154.35,227.38 155.50,228.49 156.65,229.89 157.80,232.30 158.95,230.76 160.10,229.65 161.25,232.30 162.40,229.22 163.55,232.30 164.70,227.89 165.85,228.36 167.00,230.99 168.15,232.30 169.30,230.84 170.45,230.06 171.60,225.39 172.75,227.83 173.90,228.06 175.05,228.23 176.20,230.69 177.35,228.66 178.50,231.13 179.65,229.58 180.80,228.67 181.95,229.66 183.10,230.34 184.25,231.29 185.40,228.35 186.55,228.89" fill="none" stroke="#0a0a0a" stroke-width="1.0" stroke-linejoin="round" stroke-linecap="round" />
<path d="M18.50 225.41h2.6v2.6h-2.6zM19.65 228.93h2.6v2.6h-2.6zM20.80 230.29h2.6v2.6h-2.6zM21.95 226.97h2.6v2.6h-2.6zM23.10 225.18h2.6v2.6h-2.6zM24.25 227.96h2.6v2.6h-2.6zM25.40 229.15h2.6v2.6h-2.6zM26.55 230.52h2.6v2.6h-2.6zM27.70 225.43h2.6v2.6h-2.6zM28.85 225.26h2.6v2.6h-2.6zM30.00 229.65h2.6v2.6h-2.6zM31.15 229.14h2.6v2.6h-2.6zM32.30 231.00h2.6v2.6h-2.6zM33.45 230.26h2.6v2.6h-2.6zM34.60 227.88h2.6v2.6h-2.6zM35.75 227.50h2.6v2.6h-2.6zM36.90 231.00h2.6v2.6h-2.6zM38.05 227.46h2.6v2.6h-2.6zM39.20 226.37h2.6v2.6h-2.6zM40.35 225.60h2.6v2.6h-2.6zM41.50 228.31h2.6v2.6h-2.6zM42.65 228.42h2.6v2.6h-2.6zM43.80 227.34h2.6v2.6h-2.6zM44.95 227.96h2.6v2.6h-2.6zM46.10 228.70h2.6v2.6h-2.6zM47.25 229.62h2.6v2.6h-2.6zM48.40 230.51h2.6v2.6h-2.6zM49.55 228.56h2.6v2.6h-2.6zM50.70 224.16h2.6v2.6h-2.6zM51.85 229.64h2.6v2.6h-2.6zM53.00 224.98h2.6v2.6h-2.6zM54.15 227.72h2.6v2.6h-2.6zM55.30 224.86h2.6v2.6h-2.6zM56.45 228.10h2.6v2.6h-2.6zM57.60 226.39h2.6v2.6h-2.6zM58.75 228.57h2.6v2.6h-2.6zM59.90 231.00h2.6v2.6h-2.6zM61.05 227.99h2.6v2.6h-2.6zM62.20 229.95h2.6v2.6h-2.6zM63.35 225.19h2.6v2.6h-2.6zM64.50 227.47h2.6v2.6h-2.6zM65.65 229.56h2.6v2.6h-2.6zM66.80 227.90h2.6v2.6h-2.6zM67.95 228.91h2.6v2.6h-2.6zM69.10 228.33h2.6v2.6h-2.6zM70.25 225.89h2.6v2.6h-2.6zM71.40 229.34h2.6v2.6h-2.6zM72.55 226.31h2.6v2.6h-2.6zM73.70 231.00h2.6v2.6h-2.6zM74.85 226.99h2.6v2.6h-2.6zM76.00 229.61h2.6v2.6h-2.6zM77.15 228.11h2.6v2.6h-2.6zM78.30 230.20h2.6v2.6h-2.6zM79.45 226.78h2.6v2.6h-2.6zM80.60 230.30h2.6v2.6h-2.6zM81.75 227.83h2.6v2.6h-2.6zM82.90 230.88h2.6v2.6h-2.6zM84.05 229.47h2.6v2.6h-2.6zM85.20 228.41h2.6v2.6h-2.6zM86.35 226.38h2.6v2.6h-2.6zM87.50 229.79h2.6v2.6h-2.6zM88.65 229.13h2.6v2.6h-2.6zM89.80 231.00h2.6v2.6h-2.6zM90.95 227.27h2.6v2.6h-2.6zM92.10 229.32h2.6v2.6h-2.6zM93.25 229.22h2.6v2.6h-2.6zM94.40 228.72h2.6v2.6h-2.6zM95.55 228.56h2.6v2.6h-2.6zM96.70 228.50h2.6v2.6h-2.6zM97.85 226.78h2.6v2.6h-2.6zM99.00 225.87h2.6v2.6h-2.6zM100.15 227.23h2.6v2.6h-2.6zM101.30 229.40h2.6v2.6h-2.6zM102.45 231.00h2.6v2.6h-2.6zM103.60 230.25h2.6v2.6h-2.6zM104.75 230.42h2.6v2.6h-2.6zM105.90 229.81h2.6v2.6h-2.6zM107.05 229.64h2.6v2.6h-2.6zM108.20 228.50h2.6v2.6h-2.6zM109.35 229.80h2.6v2.6h-2.6zM110.50 231.00h2.6v2.6h-2.6zM111.65 227.38h2.6v2.6h-2.6zM112.80 226.57h2.6v2.6h-2.6zM113.95 231.00h2.6v2.6h-2.6zM115.10 228.64h2.6v2.6h-2.6zM116.25 230.24h2.6v2.6h-2.6zM117.40 230.02h2.6v2.6h-2.6zM118.55 225.60h2.6v2.6h-2.6zM119.70 231.00h2.6v2.6h-2.6zM120.85 231.00h2.6v2.6h-2.6zM122.00 228.49h2.6v2.6h-2.6zM123.15 229.76h2.6v2.6h-2.6zM124.30 228.38h2.6v2.6h-2.6zM125.45 226.15h2.6v2.6h-2.6zM126.60 227.85h2.6v2.6h-2.6zM127.75 228.92h2.6v2.6h-2.6zM128.90 230.55h2.6v2.6h-2.6zM130.05 229.66h2.6v2.6h-2.6zM131.20 228.23h2.6v2.6h-2.6zM132.35 231.00h2.6v2.6h-2.6zM133.50 226.43h2.6v2.6h-2.6zM134.65 229.84h2.6v2.6h-2.6zM135.80 230.55h2.6v2.6h-2.6zM136.95 227.46h2.6v2.6h-2.6zM138.10 224.16h2.6v2.6h-2.6zM139.25 226.11h2.6v2.6h-2.6zM140.40 228.62h2.6v2.6h-2.6zM141.55 229.26h2.6v2.6h-2.6zM142.70 231.00h2.6v2.6h-2.6zM143.85 225.89h2.6v2.6h-2.6zM145.00 228.10h2.6v2.6h-2.6zM146.15 229.53h2.6v2.6h-2.6zM147.30 227.75h2.6v2.6h-2.6zM148.45 223.00h2.6v2.6h-2.6zM149.60 229.87h2.6v2.6h-2.6zM150.75 231.00h2.6v2.6h-2.6zM151.90 230.31h2.6v2.6h-2.6zM153.05 226.08h2.6v2.6h-2.6zM154.20 227.19h2.6v2.6h-2.6zM155.35 228.59h2.6v2.6h-2.6zM156.50 231.00h2.6v2.6h-2.6zM157.65 229.46h2.6v2.6h-2.6zM158.80 228.35h2.6v2.6h-2.6zM159.95 231.00h2.6v2.6h-2.6zM161.10 227.92h2.6v2.6h-2.6zM162.25 231.00h2.6v2.6h-2.6zM163.40 226.59h2.6v2.6h-2.6zM164.55 227.06h2.6v2.6h-2.6zM165.70 229.69h2.6v2.6h-2.6zM166.85 231.00h2.6v2.6h-2.6zM168.00 229.54h2.6v2.6h-2.6zM169.15 228.76h2.6v2.6h-2.6zM170.30 224.09h2.6v2.6h-2.6zM171.45 226.53h2.6v2.6h-2.6zM172.60 226.76h2.6v2.6h-2.6zM173.75 226.93h2.6v2.6h-2.6zM174.90 229.39h2.6v2.6h-2.6zM176.05 227.36h2.6v2.6h-2.6zM177.20 229.83h2.6v2.6h-2.6zM178.35 228.28h2.6v2.6h-2.6zM179.50 227.37h2.6v2.6h-2.6zM180.65 228.36h2.6v2.6h-2.6zM181.80 229.04h2.6v2.6h-2.6zM182.95 229.99h2.6v2.6h-2.6zM184.10 227.05h2.6v2.6h-2.6zM185.25 227.59h2.6v2.6h-2.6z" fill="#0a0a0a"/>
<line x1="18.60" y1="232.00" x2="187.50" y2="232.00" stroke="#0a0a0a" stroke-width="1.4" />
<line x1="17.85" y1="31.00" x2="187.50" y2="31.00" stroke="#0a0a0a" stroke-width="1.5" />
<line x1="17.85" y1="234.00" x2="187.50" y2="234.00" stroke="#0a0a0a" stroke-width="1.5" />
<line x1="18.60" y1="31.00" x2="18.60" y2="234.00" stroke="#0a0a0a" stroke-width="1.5" />
<line x1="187.50" y1="30.25" x2="187.50" y2="234.75" stroke="#0a0a0a" stroke-width="1.5" />
<line x1="173.43" y1="31.00" x2="173.43" y2="35.80" stroke="#0a0a0a" stroke-width="1.4" />
<line x1="173.43" y1="234.00" x2="173.43" y2="238.20" stroke="#0a0a0a" stroke-width="1.4" />
<text x="173.93" y="248.50" font-size="9.8" fill="#0a0a0a" stroke="#0a0a0a" text-anchor="middle" >682</text>
<line x1="159.35" y1="31.00" x2="159.35" y2="33.80" stroke="#0a0a0a" stroke-width="1.4" />
<line x1="159.35" y1="234.00" x2="159.35" y2="236.50" stroke="#0a0a0a" stroke-width="1.4" />
<line x1="145.28" y1="31.00" x2="145.28" y2="35.80" stroke="#0a0a0a" stroke-width="1.4" />
<line x1="145.28" y1="234.00" x2="145.28" y2="238.20" stroke="#0a0a0a" stroke-width="1.4" />
<text x="145.78" y="248.50" font-size="9.8" fill="#0a0a0a" stroke="#0a0a0a" text-anchor="middle" >684</text>
<line x1="131.20" y1="31.00" x2="131.20" y2="33.80" stroke="#0a0a0a" stroke-width="1.4" />
<line x1="131.20" y1="234.00" x2="131.20" y2="236.50" stroke="#0a0a0a" stroke-width="1.4" />
<line x1="117.12" y1="31.00" x2="117.12" y2="35.80" stroke="#0a0a0a" stroke-width="1.4" />
<line x1="117.12" y1="234.00" x2="117.12" y2="238.20" stroke="#0a0a0a" stroke-width="1.4" />
<text x="117.62" y="248.50" font-size="9.8" fill="#0a0a0a" stroke="#0a0a0a" text-anchor="middle" >686</text>
<line x1="103.05" y1="31.00" x2="103.05" y2="33.80" stroke="#0a0a0a" stroke-width="1.4" />
<line x1="103.05" y1="234.00" x2="103.05" y2="236.50" stroke="#0a0a0a" stroke-width="1.4" />
<line x1="88.97" y1="31.00" x2="88.97" y2="35.80" stroke="#0a0a0a" stroke-width="1.4" />
<line x1="88.97" y1="234.00" x2="88.97" y2="238.20" stroke="#0a0a0a" stroke-width="1.4" />
<text x="89.47" y="248.50" font-size="9.8" fill="#0a0a0a" stroke="#0a0a0a" text-anchor="middle" >688</text>
<line x1="74.90" y1="31.00" x2="74.90" y2="33.80" stroke="#0a0a0a" stroke-width="1.4" />
<line x1="74.90" y1="234.00" x2="74.90" y2="236.50" stroke="#0a0a0a" stroke-width="1.4" />
<line x1="60.83" y1="31.00" x2="60.83" y2="35.80" stroke="#0a0a0a" stroke-width="1.4" />
<line x1="60.83" y1="234.00" x2="60.83" y2="238.20" stroke="#0a0a0a" stroke-width="1.4" />
<text x="61.33" y="248.50" font-size="9.8" fill="#0a0a0a" stroke="#0a0a0a" text-anchor="middle" >690</text>
<line x1="46.75" y1="31.00" x2="46.75" y2="33.80" stroke="#0a0a0a" stroke-width="1.4" />
<line x1="46.75" y1="234.00" x2="46.75" y2="236.50" stroke="#0a0a0a" stroke-width="1.4" />
<line x1="32.68" y1="31.00" x2="32.68" y2="35.80" stroke="#0a0a0a" stroke-width="1.4" />
<line x1="32.68" y1="234.00" x2="32.68" y2="238.20" stroke="#0a0a0a" stroke-width="1.4" />
<text x="33.18" y="248.50" font-size="9.8" fill="#0a0a0a" stroke="#0a0a0a" text-anchor="middle" >692</text>
<line x1="18.60" y1="60.00" x2="22.00" y2="60.00" stroke="#0a0a0a" stroke-width="1.2" />
<line x1="187.50" y1="60.00" x2="184.10" y2="60.00" stroke="#0a0a0a" stroke-width="1.2" />
<line x1="18.60" y1="88.50" x2="20.60" y2="88.50" stroke="#0a0a0a" stroke-width="1.2" />
<line x1="187.50" y1="88.50" x2="185.50" y2="88.50" stroke="#0a0a0a" stroke-width="1.2" />
<line x1="18.60" y1="117.00" x2="22.00" y2="117.00" stroke="#0a0a0a" stroke-width="1.2" />
<line x1="187.50" y1="117.00" x2="184.10" y2="117.00" stroke="#0a0a0a" stroke-width="1.2" />
<line x1="18.60" y1="145.50" x2="20.60" y2="145.50" stroke="#0a0a0a" stroke-width="1.2" />
<line x1="187.50" y1="145.50" x2="185.50" y2="145.50" stroke="#0a0a0a" stroke-width="1.2" />
<line x1="18.60" y1="174.00" x2="22.00" y2="174.00" stroke="#0a0a0a" stroke-width="1.2" />
<line x1="187.50" y1="174.00" x2="184.10" y2="174.00" stroke="#0a0a0a" stroke-width="1.2" />
<line x1="18.60" y1="202.50" x2="20.60" y2="202.50" stroke="#0a0a0a" stroke-width="1.2" />
<line x1="187.50" y1="202.50" x2="185.50" y2="202.50" stroke="#0a0a0a" stroke-width="1.2" />
<line x1="18.60" y1="231.00" x2="22.00" y2="231.00" stroke="#0a0a0a" stroke-width="1.2" />
<line x1="187.50" y1="231.00" x2="184.10" y2="231.00" stroke="#0a0a0a" stroke-width="1.2" />
<line x1="187.50" y1="31.70" x2="361.50" y2="31.70" stroke="#0a0a0a" stroke-width="1.5" />
<line x1="187.50" y1="233.80" x2="361.50" y2="233.80" stroke="#0a0a0a" stroke-width="1.5" />
<line x1="361.50" y1="30.85" x2="361.50" y2="234.55" stroke="#0a0a0a" stroke-width="1.5" />
<line x1="347.00" y1="31.70" x2="347.00" y2="36.50" stroke="#0a0a0a" stroke-width="1.4" />
<line x1="347.00" y1="233.80" x2="347.00" y2="238.00" stroke="#0a0a0a" stroke-width="1.4" />
<text x="347.50" y="248.50" font-size="9.8" fill="#0a0a0a" stroke="#0a0a0a" text-anchor="middle" >682</text>
<line x1="332.50" y1="31.70" x2="332.50" y2="34.50" stroke="#0a0a0a" stroke-width="1.4" />
<line x1="332.50" y1="233.80" x2="332.50" y2="236.30" stroke="#0a0a0a" stroke-width="1.4" />
<line x1="318.00" y1="31.70" x2="318.00" y2="36.50" stroke="#0a0a0a" stroke-width="1.4" />
<line x1="318.00" y1="233.80" x2="318.00" y2="238.00" stroke="#0a0a0a" stroke-width="1.4" />
<text x="318.50" y="248.50" font-size="9.8" fill="#0a0a0a" stroke="#0a0a0a" text-anchor="middle" >684</text>
<line x1="303.50" y1="31.70" x2="303.50" y2="34.50" stroke="#0a0a0a" stroke-width="1.4" />
<line x1="303.50" y1="233.80" x2="303.50" y2="236.30" stroke="#0a0a0a" stroke-width="1.4" />
<line x1="289.00" y1="31.70" x2="289.00" y2="36.50" stroke="#0a0a0a" stroke-width="1.4" />
<line x1="289.00" y1="233.80" x2="289.00" y2="238.00" stroke="#0a0a0a" stroke-width="1.4" />
<text x="289.50" y="248.50" font-size="9.8" fill="#0a0a0a" stroke="#0a0a0a" text-anchor="middle" >686</text>
<line x1="274.50" y1="31.70" x2="274.50" y2="34.50" stroke="#0a0a0a" stroke-width="1.4" />
<line x1="274.50" y1="233.80" x2="274.50" y2="236.30" stroke="#0a0a0a" stroke-width="1.4" />
<line x1="260.00" y1="31.70" x2="260.00" y2="36.50" stroke="#0a0a0a" stroke-width="1.4" />
<line x1="260.00" y1="233.80" x2="260.00" y2="238.00" stroke="#0a0a0a" stroke-width="1.4" />
<text x="260.50" y="248.50" font-size="9.8" fill="#0a0a0a" stroke="#0a0a0a" text-anchor="middle" >688</text>
<line x1="245.50" y1="31.70" x2="245.50" y2="34.50" stroke="#0a0a0a" stroke-width="1.4" />
<line x1="245.50" y1="233.80" x2="245.50" y2="236.30" stroke="#0a0a0a" stroke-width="1.4" />
<line x1="231.00" y1="31.70" x2="231.00" y2="36.50" stroke="#0a0a0a" stroke-width="1.4" />
<line x1="231.00" y1="233.80" x2="231.00" y2="238.00" stroke="#0a0a0a" stroke-width="1.4" />
<text x="231.50" y="248.50" font-size="9.8" fill="#0a0a0a" stroke="#0a0a0a" text-anchor="middle" >690</text>
<line x1="216.50" y1="31.70" x2="216.50" y2="34.50" stroke="#0a0a0a" stroke-width="1.4" />
<line x1="216.50" y1="233.80" x2="216.50" y2="236.30" stroke="#0a0a0a" stroke-width="1.4" />
<line x1="202.00" y1="31.70" x2="202.00" y2="36.50" stroke="#0a0a0a" stroke-width="1.4" />
<line x1="202.00" y1="233.80" x2="202.00" y2="238.00" stroke="#0a0a0a" stroke-width="1.4" />
<text x="202.50" y="248.50" font-size="9.8" fill="#0a0a0a" stroke="#0a0a0a" text-anchor="middle" >692</text>
<line x1="187.50" y1="60.00" x2="190.90" y2="60.00" stroke="#0a0a0a" stroke-width="1.2" />
<line x1="361.50" y1="60.00" x2="358.10" y2="60.00" stroke="#0a0a0a" stroke-width="1.2" />
<line x1="187.50" y1="88.50" x2="189.50" y2="88.50" stroke="#0a0a0a" stroke-width="1.2" />
<line x1="361.50" y1="88.50" x2="359.50" y2="88.50" stroke="#0a0a0a" stroke-width="1.2" />
<line x1="187.50" y1="117.00" x2="190.90" y2="117.00" stroke="#0a0a0a" stroke-width="1.2" />
<line x1="361.50" y1="117.00" x2="358.10" y2="117.00" stroke="#0a0a0a" stroke-width="1.2" />
<line x1="187.50" y1="145.50" x2="189.50" y2="145.50" stroke="#0a0a0a" stroke-width="1.2" />
<line x1="361.50" y1="145.50" x2="359.50" y2="145.50" stroke="#0a0a0a" stroke-width="1.2" />
<line x1="187.50" y1="174.00" x2="190.90" y2="174.00" stroke="#0a0a0a" stroke-width="1.2" />
<line x1="361.50" y1="174.00" x2="358.10" y2="174.00" stroke="#0a0a0a" stroke-width="1.2" />
<line x1="187.50" y1="202.50" x2="189.50" y2="202.50" stroke="#0a0a0a" stroke-width="1.2" />
<line x1="361.50" y1="202.50" x2="359.50" y2="202.50" stroke="#0a0a0a" stroke-width="1.2" />
<line x1="187.50" y1="231.00" x2="190.90" y2="231.00" stroke="#0a0a0a" stroke-width="1.2" />
<line x1="361.50" y1="231.00" x2="358.10" y2="231.00" stroke="#0a0a0a" stroke-width="1.2" />
<line x1="361.50" y1="31.60" x2="535.40" y2="31.60" stroke="#0a0a0a" stroke-width="1.5" />
<line x1="361.50" y1="233.80" x2="535.40" y2="233.80" stroke="#0a0a0a" stroke-width="1.5" />
<line x1="535.40" y1="30.05" x2="535.40" y2="234.55" stroke="#0a0a0a" stroke-width="1.5" />
<line x1="520.91" y1="31.60" x2="520.91" y2="36.40" stroke="#0a0a0a" stroke-width="1.4" />
<line x1="520.91" y1="233.80" x2="520.91" y2="238.00" stroke="#0a0a0a" stroke-width="1.4" />
<text x="521.41" y="248.50" font-size="9.8" fill="#0a0a0a" stroke="#0a0a0a" text-anchor="middle" >682</text>
<line x1="506.42" y1="31.60" x2="506.42" y2="34.40" stroke="#0a0a0a" stroke-width="1.4" />
<line x1="506.42" y1="233.80" x2="506.42" y2="236.30" stroke="#0a0a0a" stroke-width="1.4" />
<line x1="491.92" y1="31.60" x2="491.92" y2="36.40" stroke="#0a0a0a" stroke-width="1.4" />
<line x1="491.92" y1="233.80" x2="491.92" y2="238.00" stroke="#0a0a0a" stroke-width="1.4" />
<text x="492.42" y="248.50" font-size="9.8" fill="#0a0a0a" stroke="#0a0a0a" text-anchor="middle" >684</text>
<line x1="477.43" y1="31.60" x2="477.43" y2="34.40" stroke="#0a0a0a" stroke-width="1.4" />
<line x1="477.43" y1="233.80" x2="477.43" y2="236.30" stroke="#0a0a0a" stroke-width="1.4" />
<line x1="462.94" y1="31.60" x2="462.94" y2="36.40" stroke="#0a0a0a" stroke-width="1.4" />
<line x1="462.94" y1="233.80" x2="462.94" y2="238.00" stroke="#0a0a0a" stroke-width="1.4" />
<text x="463.44" y="248.50" font-size="9.8" fill="#0a0a0a" stroke="#0a0a0a" text-anchor="middle" >686</text>
<line x1="448.45" y1="31.60" x2="448.45" y2="34.40" stroke="#0a0a0a" stroke-width="1.4" />
<line x1="448.45" y1="233.80" x2="448.45" y2="236.30" stroke="#0a0a0a" stroke-width="1.4" />
<line x1="433.96" y1="31.60" x2="433.96" y2="36.40" stroke="#0a0a0a" stroke-width="1.4" />
<line x1="433.96" y1="233.80" x2="433.96" y2="238.00" stroke="#0a0a0a" stroke-width="1.4" />
<text x="434.46" y="248.50" font-size="9.8" fill="#0a0a0a" stroke="#0a0a0a" text-anchor="middle" >688</text>
<line x1="419.47" y1="31.60" x2="419.47" y2="34.40" stroke="#0a0a0a" stroke-width="1.4" />
<line x1="419.47" y1="233.80" x2="419.47" y2="236.30" stroke="#0a0a0a" stroke-width="1.4" />
<line x1="404.98" y1="31.60" x2="404.98" y2="36.40" stroke="#0a0a0a" stroke-width="1.4" />
<line x1="404.98" y1="233.80" x2="404.98" y2="238.00" stroke="#0a0a0a" stroke-width="1.4" />
<text x="405.48" y="248.50" font-size="9.8" fill="#0a0a0a" stroke="#0a0a0a" text-anchor="middle" >690</text>
<line x1="390.48" y1="31.60" x2="390.48" y2="34.40" stroke="#0a0a0a" stroke-width="1.4" />
<line x1="390.48" y1="233.80" x2="390.48" y2="236.30" stroke="#0a0a0a" stroke-width="1.4" />
<line x1="375.99" y1="31.60" x2="375.99" y2="36.40" stroke="#0a0a0a" stroke-width="1.4" />
<line x1="375.99" y1="233.80" x2="375.99" y2="238.00" stroke="#0a0a0a" stroke-width="1.4" />
<text x="376.49" y="248.50" font-size="9.8" fill="#0a0a0a" stroke="#0a0a0a" text-anchor="middle" >692</text>
<line x1="361.50" y1="60.00" x2="364.90" y2="60.00" stroke="#0a0a0a" stroke-width="1.2" />
<line x1="535.40" y1="60.00" x2="532.00" y2="60.00" stroke="#0a0a0a" stroke-width="1.2" />
<line x1="361.50" y1="88.50" x2="363.50" y2="88.50" stroke="#0a0a0a" stroke-width="1.2" />
<line x1="535.40" y1="88.50" x2="533.40" y2="88.50" stroke="#0a0a0a" stroke-width="1.2" />
<line x1="361.50" y1="117.00" x2="364.90" y2="117.00" stroke="#0a0a0a" stroke-width="1.2" />
<line x1="535.40" y1="117.00" x2="532.00" y2="117.00" stroke="#0a0a0a" stroke-width="1.2" />
<line x1="361.50" y1="145.50" x2="363.50" y2="145.50" stroke="#0a0a0a" stroke-width="1.2" />
<line x1="535.40" y1="145.50" x2="533.40" y2="145.50" stroke="#0a0a0a" stroke-width="1.2" />
<line x1="361.50" y1="174.00" x2="364.90" y2="174.00" stroke="#0a0a0a" stroke-width="1.2" />
<line x1="535.40" y1="174.00" x2="532.00" y2="174.00" stroke="#0a0a0a" stroke-width="1.2" />
<line x1="361.50" y1="202.50" x2="363.50" y2="202.50" stroke="#0a0a0a" stroke-width="1.2" />
<line x1="535.40" y1="202.50" x2="533.40" y2="202.50" stroke="#0a0a0a" stroke-width="1.2" />
<line x1="361.50" y1="231.00" x2="364.90" y2="231.00" stroke="#0a0a0a" stroke-width="1.2" />
<line x1="535.40" y1="231.00" x2="532.00" y2="231.00" stroke="#0a0a0a" stroke-width="1.2" />
<line x1="535.40" y1="30.80" x2="709.90" y2="30.80" stroke="#0a0a0a" stroke-width="1.5" />
<line x1="535.40" y1="233.50" x2="709.90" y2="233.50" stroke="#0a0a0a" stroke-width="1.5" />
<line x1="709.90" y1="30.05" x2="709.90" y2="234.25" stroke="#0a0a0a" stroke-width="1.5" />
<line x1="695.36" y1="30.80" x2="695.36" y2="35.60" stroke="#0a0a0a" stroke-width="1.4" />
<line x1="695.36" y1="233.50" x2="695.36" y2="237.70" stroke="#0a0a0a" stroke-width="1.4" />
<text x="695.86" y="248.50" font-size="9.8" fill="#0a0a0a" stroke="#0a0a0a" text-anchor="middle" >682</text>
<line x1="680.82" y1="30.80" x2="680.82" y2="33.60" stroke="#0a0a0a" stroke-width="1.4" />
<line x1="680.82" y1="233.50" x2="680.82" y2="236.00" stroke="#0a0a0a" stroke-width="1.4" />
<line x1="666.27" y1="30.80" x2="666.27" y2="35.60" stroke="#0a0a0a" stroke-width="1.4" />
<line x1="666.27" y1="233.50" x2="666.27" y2="237.70" stroke="#0a0a0a" stroke-width="1.4" />
<text x="666.77" y="248.50" font-size="9.8" fill="#0a0a0a" stroke="#0a0a0a" text-anchor="middle" >684</text>
<line x1="651.73" y1="30.80" x2="651.73" y2="33.60" stroke="#0a0a0a" stroke-width="1.4" />
<line x1="651.73" y1="233.50" x2="651.73" y2="236.00" stroke="#0a0a0a" stroke-width="1.4" />
<line x1="637.19" y1="30.80" x2="637.19" y2="35.60" stroke="#0a0a0a" stroke-width="1.4" />
<line x1="637.19" y1="233.50" x2="637.19" y2="237.70" stroke="#0a0a0a" stroke-width="1.4" />
<text x="637.69" y="248.50" font-size="9.8" fill="#0a0a0a" stroke="#0a0a0a" text-anchor="middle" >686</text>
<line x1="622.65" y1="30.80" x2="622.65" y2="33.60" stroke="#0a0a0a" stroke-width="1.4" />
<line x1="622.65" y1="233.50" x2="622.65" y2="236.00" stroke="#0a0a0a" stroke-width="1.4" />
<line x1="608.11" y1="30.80" x2="608.11" y2="35.60" stroke="#0a0a0a" stroke-width="1.4" />
<line x1="608.11" y1="233.50" x2="608.11" y2="237.70" stroke="#0a0a0a" stroke-width="1.4" />
<text x="608.61" y="248.50" font-size="9.8" fill="#0a0a0a" stroke="#0a0a0a" text-anchor="middle" >688</text>
<line x1="593.57" y1="30.80" x2="593.57" y2="33.60" stroke="#0a0a0a" stroke-width="1.4" />
<line x1="593.57" y1="233.50" x2="593.57" y2="236.00" stroke="#0a0a0a" stroke-width="1.4" />
<line x1="579.02" y1="30.80" x2="579.02" y2="35.60" stroke="#0a0a0a" stroke-width="1.4" />
<line x1="579.02" y1="233.50" x2="579.02" y2="237.70" stroke="#0a0a0a" stroke-width="1.4" />
<text x="579.52" y="248.50" font-size="9.8" fill="#0a0a0a" stroke="#0a0a0a" text-anchor="middle" >690</text>
<line x1="564.48" y1="30.80" x2="564.48" y2="33.60" stroke="#0a0a0a" stroke-width="1.4" />
<line x1="564.48" y1="233.50" x2="564.48" y2="236.00" stroke="#0a0a0a" stroke-width="1.4" />
<line x1="549.94" y1="30.80" x2="549.94" y2="35.60" stroke="#0a0a0a" stroke-width="1.4" />
<line x1="549.94" y1="233.50" x2="549.94" y2="237.70" stroke="#0a0a0a" stroke-width="1.4" />
<text x="550.44" y="248.50" font-size="9.8" fill="#0a0a0a" stroke="#0a0a0a" text-anchor="middle" >692</text>
<line x1="535.40" y1="60.00" x2="538.80" y2="60.00" stroke="#0a0a0a" stroke-width="1.2" />
<line x1="709.90" y1="60.00" x2="706.50" y2="60.00" stroke="#0a0a0a" stroke-width="1.2" />
<line x1="535.40" y1="88.50" x2="537.40" y2="88.50" stroke="#0a0a0a" stroke-width="1.2" />
<line x1="709.90" y1="88.50" x2="707.90" y2="88.50" stroke="#0a0a0a" stroke-width="1.2" />
<line x1="535.40" y1="117.00" x2="538.80" y2="117.00" stroke="#0a0a0a" stroke-width="1.2" />
<line x1="709.90" y1="117.00" x2="706.50" y2="117.00" stroke="#0a0a0a" stroke-width="1.2" />
<line x1="535.40" y1="145.50" x2="537.40" y2="145.50" stroke="#0a0a0a" stroke-width="1.2" />
<line x1="709.90" y1="145.50" x2="707.90" y2="145.50" stroke="#0a0a0a" stroke-width="1.2" />
<line x1="535.40" y1="174.00" x2="538.80" y2="174.00" stroke="#0a0a0a" stroke-width="1.2" />
<line x1="709.90" y1="174.00" x2="706.50" y2="174.00" stroke="#0a0a0a" stroke-width="1.2" />
<line x1="535.40" y1="202.50" x2="537.40" y2="202.50" stroke="#0a0a0a" stroke-width="1.2" />
<line x1="709.90" y1="202.50" x2="707.90" y2="202.50" stroke="#0a0a0a" stroke-width="1.2" />
<line x1="535.40" y1="231.00" x2="538.80" y2="231.00" stroke="#0a0a0a" stroke-width="1.2" />
<line x1="709.90" y1="231.00" x2="706.50" y2="231.00" stroke="#0a0a0a" stroke-width="1.2" />
<line x1="709.90" y1="30.90" x2="884.85" y2="30.90" stroke="#0a0a0a" stroke-width="1.5" />
<line x1="709.90" y1="233.30" x2="884.85" y2="233.30" stroke="#0a0a0a" stroke-width="1.5" />
<line x1="884.10" y1="30.15" x2="884.10" y2="234.05" stroke="#0a0a0a" stroke-width="1.5" />
<line x1="869.58" y1="30.90" x2="869.58" y2="35.70" stroke="#0a0a0a" stroke-width="1.4" />
<line x1="869.58" y1="233.30" x2="869.58" y2="229.00" stroke="#0a0a0a" stroke-width="1.4" />
<text x="870.08" y="247.00" font-size="9.8" fill="#0a0a0a" stroke="#0a0a0a" text-anchor="middle" >682</text>
<line x1="855.07" y1="30.90" x2="855.07" y2="33.70" stroke="#0a0a0a" stroke-width="1.4" />
<line x1="855.07" y1="233.30" x2="855.07" y2="231.00" stroke="#0a0a0a" stroke-width="1.4" />
<line x1="840.55" y1="30.90" x2="840.55" y2="35.70" stroke="#0a0a0a" stroke-width="1.4" />
<line x1="840.55" y1="233.30" x2="840.55" y2="229.00" stroke="#0a0a0a" stroke-width="1.4" />
<text x="841.05" y="247.00" font-size="9.8" fill="#0a0a0a" stroke="#0a0a0a" text-anchor="middle" >684</text>
<line x1="826.03" y1="30.90" x2="826.03" y2="33.70" stroke="#0a0a0a" stroke-width="1.4" />
<line x1="826.03" y1="233.30" x2="826.03" y2="231.00" stroke="#0a0a0a" stroke-width="1.4" />
<line x1="811.52" y1="30.90" x2="811.52" y2="35.70" stroke="#0a0a0a" stroke-width="1.4" />
<line x1="811.52" y1="233.30" x2="811.52" y2="229.00" stroke="#0a0a0a" stroke-width="1.4" />
<text x="812.02" y="247.00" font-size="9.8" fill="#0a0a0a" stroke="#0a0a0a" text-anchor="middle" >686</text>
<line x1="797.00" y1="30.90" x2="797.00" y2="33.70" stroke="#0a0a0a" stroke-width="1.4" />
<line x1="797.00" y1="233.30" x2="797.00" y2="231.00" stroke="#0a0a0a" stroke-width="1.4" />
<line x1="782.48" y1="30.90" x2="782.48" y2="35.70" stroke="#0a0a0a" stroke-width="1.4" />
<line x1="782.48" y1="233.30" x2="782.48" y2="229.00" stroke="#0a0a0a" stroke-width="1.4" />
<text x="782.98" y="247.00" font-size="9.8" fill="#0a0a0a" stroke="#0a0a0a" text-anchor="middle" >688</text>
<line x1="767.97" y1="30.90" x2="767.97" y2="33.70" stroke="#0a0a0a" stroke-width="1.4" />
<line x1="767.97" y1="233.30" x2="767.97" y2="231.00" stroke="#0a0a0a" stroke-width="1.4" />
<line x1="753.45" y1="30.90" x2="753.45" y2="35.70" stroke="#0a0a0a" stroke-width="1.4" />
<line x1="753.45" y1="233.30" x2="753.45" y2="229.00" stroke="#0a0a0a" stroke-width="1.4" />
<text x="753.95" y="247.00" font-size="9.8" fill="#0a0a0a" stroke="#0a0a0a" text-anchor="middle" >690</text>
<line x1="738.93" y1="30.90" x2="738.93" y2="33.70" stroke="#0a0a0a" stroke-width="1.4" />
<line x1="738.93" y1="233.30" x2="738.93" y2="231.00" stroke="#0a0a0a" stroke-width="1.4" />
<line x1="724.42" y1="30.90" x2="724.42" y2="35.70" stroke="#0a0a0a" stroke-width="1.4" />
<line x1="724.42" y1="233.30" x2="724.42" y2="229.00" stroke="#0a0a0a" stroke-width="1.4" />
<text x="724.92" y="247.00" font-size="9.8" fill="#0a0a0a" stroke="#0a0a0a" text-anchor="middle" >692</text>
<line x1="709.90" y1="60.00" x2="713.30" y2="60.00" stroke="#0a0a0a" stroke-width="1.2" />
<line x1="884.10" y1="60.00" x2="880.70" y2="60.00" stroke="#0a0a0a" stroke-width="1.2" />
<line x1="709.90" y1="88.50" x2="711.90" y2="88.50" stroke="#0a0a0a" stroke-width="1.2" />
<line x1="884.10" y1="88.50" x2="882.10" y2="88.50" stroke="#0a0a0a" stroke-width="1.2" />
<line x1="709.90" y1="117.00" x2="713.30" y2="117.00" stroke="#0a0a0a" stroke-width="1.2" />
<line x1="884.10" y1="117.00" x2="880.70" y2="117.00" stroke="#0a0a0a" stroke-width="1.2" />
<line x1="709.90" y1="145.50" x2="711.90" y2="145.50" stroke="#0a0a0a" stroke-width="1.2" />
<line x1="884.10" y1="145.50" x2="882.10" y2="145.50" stroke="#0a0a0a" stroke-width="1.2" />
<line x1="709.90" y1="174.00" x2="713.30" y2="174.00" stroke="#0a0a0a" stroke-width="1.2" />
<line x1="884.10" y1="174.00" x2="880.70" y2="174.00" stroke="#0a0a0a" stroke-width="1.2" />
<line x1="709.90" y1="202.50" x2="711.90" y2="202.50" stroke="#0a0a0a" stroke-width="1.2" />
<line x1="884.10" y1="202.50" x2="882.10" y2="202.50" stroke="#0a0a0a" stroke-width="1.2" />
<line x1="709.90" y1="231.00" x2="713.30" y2="231.00" stroke="#0a0a0a" stroke-width="1.2" />
<line x1="884.10" y1="231.00" x2="880.70" y2="231.00" stroke="#0a0a0a" stroke-width="1.2" />
<line x1="187.50" y1="234.00" x2="187.50" y2="237.00" stroke="#0a0a0a" stroke-width="1.4" />
<line x1="361.50" y1="233.80" x2="361.50" y2="236.80" stroke="#0a0a0a" stroke-width="1.4" />
<line x1="535.40" y1="233.80" x2="535.40" y2="236.80" stroke="#0a0a0a" stroke-width="1.4" />
<line x1="709.90" y1="233.50" x2="709.90" y2="236.50" stroke="#0a0a0a" stroke-width="1.4" />
<text x="55.50" y="12.70" font-size="17.1" fill="#0a0a0a" stroke="#0a0a0a" text-anchor="start" >untreated</text>
<text x="241.10" y="12.70" font-size="17.1" fill="#0a0a0a" stroke="#0a0a0a" text-anchor="start" >Ref. [24]</text>
<text x="410.40" y="12.70" font-size="17.1" fill="#0a0a0a" stroke="#0a0a0a" text-anchor="start" >F_5 min</text>
<text x="587.10" y="12.70" font-size="17.1" fill="#0a0a0a" stroke="#0a0a0a" text-anchor="start" >F_10 min</text>
<text x="757.50" y="12.70" font-size="17.1" fill="#0a0a0a" stroke="#0a0a0a" text-anchor="start" >F_30 min</text>
<text x="45.60" y="264.80" font-size="12.45" fill="#0a0a0a" stroke="#0a0a0a" text-anchor="start" >Binding Energy [eV]</text>
<text x="217.40" y="264.50" font-size="12.45" fill="#0a0a0a" stroke="#0a0a0a" text-anchor="start" >Binding Energy [eV]</text>
<text x="390.10" y="264.50" font-size="12.45" fill="#0a0a0a" stroke="#0a0a0a" text-anchor="start" >Binding Energy [eV]</text>
<text x="563.50" y="264.60" font-size="12.45" fill="#0a0a0a" stroke="#0a0a0a" text-anchor="start" >Binding Energy [eV]</text>
<text x="739.60" y="263.00" font-size="12.45" fill="#0a0a0a" stroke="#0a0a0a" text-anchor="start" >Binding Energy [eV]</text>
<text transform="translate(12.0,189.5) rotate(-90)" font-size="16.35" fill="#0a0a0a" stroke="#0a0a0a">Intensity [a. u.]</text>
<rect x="29.4" y="42.5" width="6.4" height="6.2" fill="#0a0a0a"/>
<line x1="23.40" y1="60.90" x2="41.60" y2="60.90" stroke="#0a0a0a" stroke-width="1.7" />
<line x1="23.40" y1="77.20" x2="41.60" y2="77.20" stroke="#ff0000" stroke-width="1.7" />
<line x1="23.40" y1="93.50" x2="41.60" y2="93.50" stroke="#2200c8" stroke-width="1.7" />
<text x="53.20" y="48.60" font-size="13.65" fill="#0a0a0a" stroke="#0a0a0a" text-anchor="start" >measured data</text>
<text x="53.20" y="64.90" font-size="13.65" fill="#0a0a0a" stroke="#0a0a0a" text-anchor="start" >fitted curve</text>
<text x="53.20" y="81.70" font-size="13.65" fill="#0a0a0a" stroke="#0a0a0a" text-anchor="start" >Gd-F peak</text>
<text x="53.20" y="98.00" font-size="13.65" fill="#0a0a0a" stroke="#0a0a0a" text-anchor="start" >C-F peak</text>
<text x="224.50" y="163.10" font-size="13.6" fill="#ff0000" stroke="#ff0000" text-anchor="start" >Gd-F</text>
<line x1="259.20" y1="161.40" x2="294.30" y2="203.10" stroke="#ff0000" stroke-width="1.4" />
<line x1="294.30" y1="203.10" x2="286.01" y2="199.60" stroke="#ff0000" stroke-width="1.4" stroke-linecap="round"/>
<line x1="294.30" y1="203.10" x2="292.26" y2="194.33" stroke="#ff0000" stroke-width="1.4" stroke-linecap="round"/>
<text x="401.90" y="108.10" font-size="13.6" fill="#ff0000" stroke="#ff0000" text-anchor="start" >Gd-F</text>
<line x1="434.10" y1="109.00" x2="469.50" y2="151.20" stroke="#ff0000" stroke-width="1.4" />
<line x1="469.50" y1="151.20" x2="461.22" y2="147.68" stroke="#ff0000" stroke-width="1.4" stroke-linecap="round"/>
<line x1="469.50" y1="151.20" x2="467.48" y2="142.43" stroke="#ff0000" stroke-width="1.4" stroke-linecap="round"/>
<text x="571.40" y="99.20" font-size="13.6" fill="#ff0000" stroke="#ff0000" text-anchor="start" >Gd-F</text>
<line x1="605.20" y1="100.10" x2="640.30" y2="142.30" stroke="#ff0000" stroke-width="1.4" />
<line x1="640.30" y1="142.30" x2="632.03" y2="138.75" stroke="#ff0000" stroke-width="1.4" stroke-linecap="round"/>
<line x1="640.30" y1="142.30" x2="638.31" y2="133.52" stroke="#ff0000" stroke-width="1.4" stroke-linecap="round"/>
<text x="741.60" y="81.30" font-size="13.6" fill="#ff0000" stroke="#ff0000" text-anchor="start" >Gd-F</text>
<line x1="781.60" y1="81.30" x2="816.40" y2="122.90" stroke="#ff0000" stroke-width="1.4" />
<line x1="816.40" y1="122.90" x2="808.12" y2="119.37" stroke="#ff0000" stroke-width="1.4" stroke-linecap="round"/>
<line x1="816.40" y1="122.90" x2="814.39" y2="114.13" stroke="#ff0000" stroke-width="1.4" stroke-linecap="round"/>
<text x="219.10" y="200.30" font-size="13.8" fill="#2a0aa8" stroke="#2a0aa8" text-anchor="start" >C-F</text>
<line x1="246.20" y1="202.60" x2="265.20" y2="231.00" stroke="#2a0aa8" stroke-width="1.1" />
<line x1="265.20" y1="231.00" x2="257.78" y2="226.85" stroke="#2a0aa8" stroke-width="1.1" stroke-linecap="round"/>
<line x1="265.20" y1="231.00" x2="264.20" y2="222.56" stroke="#2a0aa8" stroke-width="1.1" stroke-linecap="round"/>
<text x="384.70" y="199.80" font-size="13.8" fill="#2a0aa8" stroke="#2a0aa8" text-anchor="start" >C-F</text>
<line x1="405.40" y1="201.40" x2="425.40" y2="231.50" stroke="#2a0aa8" stroke-width="1.35" />
<line x1="425.40" y1="231.50" x2="417.99" y2="227.33" stroke="#2a0aa8" stroke-width="1.35" stroke-linecap="round"/>
<line x1="425.40" y1="231.50" x2="424.42" y2="223.06" stroke="#2a0aa8" stroke-width="1.35" stroke-linecap="round"/>
<text x="567.40" y="198.40" font-size="13.8" fill="#2a0aa8" stroke="#2a0aa8" text-anchor="start" >C-F</text>
<line x1="587.40" y1="199.80" x2="607.20" y2="229.90" stroke="#2a0aa8" stroke-width="1.35" />
<line x1="607.20" y1="229.90" x2="599.81" y2="225.69" stroke="#2a0aa8" stroke-width="1.35" stroke-linecap="round"/>
<line x1="607.20" y1="229.90" x2="606.26" y2="221.45" stroke="#2a0aa8" stroke-width="1.35" stroke-linecap="round"/>
<text x="744.00" y="199.80" font-size="13.8" fill="#2a0aa8" stroke="#2a0aa8" text-anchor="start" >C-F</text>
<line x1="763.30" y1="200.90" x2="783.10" y2="230.50" stroke="#2a0aa8" stroke-width="1.35" />
<line x1="783.10" y1="230.50" x2="775.68" y2="226.35" stroke="#2a0aa8" stroke-width="1.35" stroke-linecap="round"/>
<line x1="783.10" y1="230.50" x2="782.10" y2="222.06" stroke="#2a0aa8" stroke-width="1.35" stroke-linecap="round"/>
</svg>
</body></html>
